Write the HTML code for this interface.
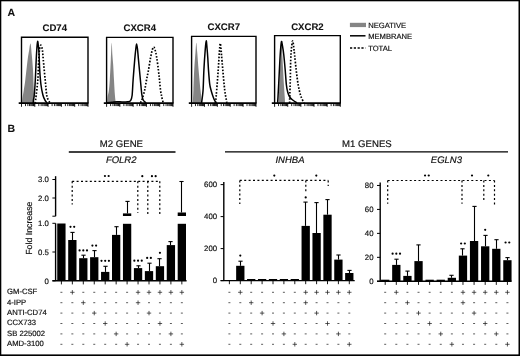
<!DOCTYPE html>
<html><head><meta charset="utf-8"><style>
html,body{margin:0;padding:0;background:#fff;}
body{width:520px;height:356px;overflow:hidden;}
svg{display:block;will-change:transform;}
text{font-family:"Liberation Sans",sans-serif;text-rendering:geometricPrecision;}
</style></head><body>
<svg width="520" height="356" viewBox="0 0 520 356">
<rect x="0" y="0" width="520" height="356" fill="#fff"/>
<rect x="0.00" y="0.00" width="520.00" height="1.30" fill="#000"/>
<rect x="0.00" y="0.00" width="1.30" height="356.00" fill="#000"/>
<rect x="518.50" y="0.00" width="1.50" height="356.00" fill="#000"/>
<rect x="0.00" y="354.40" width="520.00" height="1.60" fill="#000"/>
<text transform="translate(7.40,16.00) scale(1,1.0)" font-size="10.5" text-anchor="start" font-weight="bold" font-style="normal" fill="#111" stroke="#111" stroke-width="0.08" >A</text>
<text transform="translate(54.75,31.20) scale(1,1.0)" font-size="9.6" text-anchor="middle" font-weight="bold" font-style="normal" fill="#111" stroke="#111" stroke-width="0.08" >CD74</text>
<path d="M22.20,103.20 C22.23,102.50 22.13,101.20 22.40,99.00 C22.67,96.80 23.32,93.17 23.80,90.00 C24.28,86.83 24.67,85.00 25.30,80.00 C25.93,75.00 26.95,65.00 27.60,60.00 C28.25,55.00 28.72,52.73 29.20,50.00 C29.68,47.27 30.07,42.77 30.50,43.60 C30.93,44.43 31.38,50.60 31.80,55.00 C32.22,59.40 32.70,65.00 33.00,70.00 C33.30,75.00 33.40,80.33 33.60,85.00 C33.80,89.67 34.07,94.97 34.20,98.00 C34.33,101.03 34.37,102.33 34.40,103.20 Z" fill="#858585"/>
<path d="M33.20,103.20 C33.25,102.58 33.32,100.87 33.50,99.50 C33.68,98.13 34.00,98.25 34.30,95.00 C34.60,91.75 34.98,85.83 35.30,80.00 C35.62,74.17 35.93,65.33 36.20,60.00 C36.47,54.67 36.67,51.12 36.90,48.00 C37.13,44.88 37.33,41.47 37.60,41.30 C37.87,41.13 38.25,44.72 38.50,47.00 C38.75,49.28 38.90,51.17 39.10,55.00 C39.30,58.83 39.38,65.00 39.70,70.00 C40.02,75.00 40.47,80.83 41.00,85.00 C41.53,89.17 42.27,92.53 42.90,95.00 C43.53,97.47 44.12,98.48 44.80,99.80 C45.48,101.12 46.63,102.38 47.00,102.90" fill="none" stroke="#000" stroke-width="1.5" stroke-linejoin="round"/>
<path d="M35.20,103.20 C35.37,101.83 35.77,98.87 36.20,95.00 C36.63,91.13 37.38,85.83 37.80,80.00 C38.22,74.17 38.40,65.17 38.70,60.00 C39.00,54.83 39.22,51.47 39.60,49.00 C39.98,46.53 40.53,45.03 41.00,45.20 C41.47,45.37 42.02,47.53 42.40,50.00 C42.78,52.47 42.83,55.00 43.30,60.00 C43.77,65.00 44.63,74.17 45.20,80.00 C45.77,85.83 46.18,91.67 46.70,95.00 C47.22,98.33 47.75,98.68 48.30,100.00 C48.85,101.32 49.72,102.42 50.00,102.90" fill="none" stroke="#000" stroke-width="1.7" stroke-dasharray="1.6 1.6"/>
<path d="M21.50,103.20 L21.50,37.30 L88.00,37.30 L88.00,103.20" fill="none" stroke="#000" stroke-width="1.4"/>
<line x1="18.70" y1="103.20" x2="88.40" y2="103.20" stroke="#000" stroke-width="1.7" stroke-linecap="butt"/>
<line x1="21.50" y1="103.20" x2="21.50" y2="106.80" stroke="#000" stroke-width="0.9" stroke-linecap="butt"/>
<line x1="25.50" y1="103.20" x2="25.50" y2="106.10" stroke="#000" stroke-width="0.85" stroke-linecap="butt"/>
<line x1="27.85" y1="103.20" x2="27.85" y2="106.10" stroke="#000" stroke-width="0.85" stroke-linecap="butt"/>
<line x1="29.51" y1="103.20" x2="29.51" y2="106.10" stroke="#000" stroke-width="0.85" stroke-linecap="butt"/>
<line x1="30.80" y1="103.20" x2="30.80" y2="106.10" stroke="#000" stroke-width="0.85" stroke-linecap="butt"/>
<line x1="31.85" y1="103.20" x2="31.85" y2="106.10" stroke="#000" stroke-width="0.85" stroke-linecap="butt"/>
<line x1="32.74" y1="103.20" x2="32.74" y2="106.10" stroke="#000" stroke-width="0.85" stroke-linecap="butt"/>
<line x1="33.51" y1="103.20" x2="33.51" y2="106.10" stroke="#000" stroke-width="0.85" stroke-linecap="butt"/>
<line x1="34.19" y1="103.20" x2="34.19" y2="106.10" stroke="#000" stroke-width="0.85" stroke-linecap="butt"/>
<line x1="34.80" y1="103.20" x2="34.80" y2="106.80" stroke="#000" stroke-width="0.9" stroke-linecap="butt"/>
<line x1="38.80" y1="103.20" x2="38.80" y2="106.10" stroke="#000" stroke-width="0.85" stroke-linecap="butt"/>
<line x1="41.15" y1="103.20" x2="41.15" y2="106.10" stroke="#000" stroke-width="0.85" stroke-linecap="butt"/>
<line x1="42.81" y1="103.20" x2="42.81" y2="106.10" stroke="#000" stroke-width="0.85" stroke-linecap="butt"/>
<line x1="44.10" y1="103.20" x2="44.10" y2="106.10" stroke="#000" stroke-width="0.85" stroke-linecap="butt"/>
<line x1="45.15" y1="103.20" x2="45.15" y2="106.10" stroke="#000" stroke-width="0.85" stroke-linecap="butt"/>
<line x1="46.04" y1="103.20" x2="46.04" y2="106.10" stroke="#000" stroke-width="0.85" stroke-linecap="butt"/>
<line x1="46.81" y1="103.20" x2="46.81" y2="106.10" stroke="#000" stroke-width="0.85" stroke-linecap="butt"/>
<line x1="47.49" y1="103.20" x2="47.49" y2="106.10" stroke="#000" stroke-width="0.85" stroke-linecap="butt"/>
<line x1="48.10" y1="103.20" x2="48.10" y2="106.80" stroke="#000" stroke-width="0.9" stroke-linecap="butt"/>
<line x1="52.10" y1="103.20" x2="52.10" y2="106.10" stroke="#000" stroke-width="0.85" stroke-linecap="butt"/>
<line x1="54.45" y1="103.20" x2="54.45" y2="106.10" stroke="#000" stroke-width="0.85" stroke-linecap="butt"/>
<line x1="56.11" y1="103.20" x2="56.11" y2="106.10" stroke="#000" stroke-width="0.85" stroke-linecap="butt"/>
<line x1="57.40" y1="103.20" x2="57.40" y2="106.10" stroke="#000" stroke-width="0.85" stroke-linecap="butt"/>
<line x1="58.45" y1="103.20" x2="58.45" y2="106.10" stroke="#000" stroke-width="0.85" stroke-linecap="butt"/>
<line x1="59.34" y1="103.20" x2="59.34" y2="106.10" stroke="#000" stroke-width="0.85" stroke-linecap="butt"/>
<line x1="60.11" y1="103.20" x2="60.11" y2="106.10" stroke="#000" stroke-width="0.85" stroke-linecap="butt"/>
<line x1="60.79" y1="103.20" x2="60.79" y2="106.10" stroke="#000" stroke-width="0.85" stroke-linecap="butt"/>
<line x1="61.40" y1="103.20" x2="61.40" y2="106.80" stroke="#000" stroke-width="0.9" stroke-linecap="butt"/>
<line x1="65.40" y1="103.20" x2="65.40" y2="106.10" stroke="#000" stroke-width="0.85" stroke-linecap="butt"/>
<line x1="67.75" y1="103.20" x2="67.75" y2="106.10" stroke="#000" stroke-width="0.85" stroke-linecap="butt"/>
<line x1="69.41" y1="103.20" x2="69.41" y2="106.10" stroke="#000" stroke-width="0.85" stroke-linecap="butt"/>
<line x1="70.70" y1="103.20" x2="70.70" y2="106.10" stroke="#000" stroke-width="0.85" stroke-linecap="butt"/>
<line x1="71.75" y1="103.20" x2="71.75" y2="106.10" stroke="#000" stroke-width="0.85" stroke-linecap="butt"/>
<line x1="72.64" y1="103.20" x2="72.64" y2="106.10" stroke="#000" stroke-width="0.85" stroke-linecap="butt"/>
<line x1="73.41" y1="103.20" x2="73.41" y2="106.10" stroke="#000" stroke-width="0.85" stroke-linecap="butt"/>
<line x1="74.09" y1="103.20" x2="74.09" y2="106.10" stroke="#000" stroke-width="0.85" stroke-linecap="butt"/>
<line x1="74.70" y1="103.20" x2="74.70" y2="106.80" stroke="#000" stroke-width="0.9" stroke-linecap="butt"/>
<line x1="78.70" y1="103.20" x2="78.70" y2="106.10" stroke="#000" stroke-width="0.85" stroke-linecap="butt"/>
<line x1="81.05" y1="103.20" x2="81.05" y2="106.10" stroke="#000" stroke-width="0.85" stroke-linecap="butt"/>
<line x1="82.71" y1="103.20" x2="82.71" y2="106.10" stroke="#000" stroke-width="0.85" stroke-linecap="butt"/>
<line x1="84.00" y1="103.20" x2="84.00" y2="106.10" stroke="#000" stroke-width="0.85" stroke-linecap="butt"/>
<line x1="85.05" y1="103.20" x2="85.05" y2="106.10" stroke="#000" stroke-width="0.85" stroke-linecap="butt"/>
<line x1="85.94" y1="103.20" x2="85.94" y2="106.10" stroke="#000" stroke-width="0.85" stroke-linecap="butt"/>
<line x1="86.71" y1="103.20" x2="86.71" y2="106.10" stroke="#000" stroke-width="0.85" stroke-linecap="butt"/>
<line x1="87.39" y1="103.20" x2="87.39" y2="106.10" stroke="#000" stroke-width="0.85" stroke-linecap="butt"/>
<line x1="88.00" y1="103.20" x2="88.00" y2="106.80" stroke="#000" stroke-width="0.9" stroke-linecap="butt"/>
<text transform="translate(139.80,31.30) scale(1,1.0)" font-size="9.6" text-anchor="middle" font-weight="bold" font-style="normal" fill="#111" stroke="#111" stroke-width="0.08" >CXCR4</text>
<path d="M107.20,103.20 C107.27,102.17 107.33,99.03 107.60,97.00 C107.87,94.97 108.43,93.83 108.80,91.00 C109.17,88.17 109.47,85.17 109.80,80.00 C110.13,74.83 110.48,66.22 110.80,60.00 C111.12,53.78 111.43,43.53 111.70,42.70 C111.97,41.87 112.15,51.28 112.40,55.00 C112.65,58.72 112.93,60.83 113.20,65.00 C113.47,69.17 113.72,75.00 114.00,80.00 C114.28,85.00 114.60,91.13 114.90,95.00 C115.20,98.87 115.65,101.83 115.80,103.20 Z" fill="#858585"/>
<path d="M107.00,102.80 C107.83,102.72 110.33,102.48 112.00,102.30 C113.67,102.12 115.33,101.75 117.00,101.70 C118.67,101.65 120.25,101.98 122.00,102.00 C123.75,102.02 126.07,102.03 127.50,101.80 C128.93,101.57 129.83,101.65 130.60,100.60 C131.37,99.55 131.68,98.93 132.10,95.50 C132.52,92.07 132.67,85.92 133.10,80.00 C133.53,74.08 134.25,65.17 134.70,60.00 C135.15,54.83 135.48,51.67 135.80,49.00 C136.12,46.33 136.32,44.00 136.60,44.00 C136.88,44.00 137.18,46.33 137.50,49.00 C137.82,51.67 138.02,54.83 138.50,60.00 C138.98,65.17 139.83,74.17 140.40,80.00 C140.97,85.83 141.43,91.67 141.90,95.00 C142.37,98.33 142.52,98.68 143.20,100.00 C143.88,101.32 145.53,102.42 146.00,102.90" fill="none" stroke="#000" stroke-width="1.5" stroke-linejoin="round"/>
<path d="M140.50,102.80 C140.78,102.17 141.50,101.13 142.20,99.00 C142.90,96.87 143.98,93.17 144.70,90.00 C145.42,86.83 145.87,83.33 146.50,80.00 C147.13,76.67 147.83,73.67 148.50,70.00 C149.17,66.33 149.85,61.42 150.50,58.00 C151.15,54.58 151.87,51.32 152.40,49.50 C152.93,47.68 153.27,47.10 153.70,47.10 C154.13,47.10 154.52,47.85 155.00,49.50 C155.48,51.15 156.03,53.58 156.60,57.00 C157.17,60.42 157.92,66.17 158.40,70.00 C158.88,73.83 159.15,76.67 159.50,80.00 C159.85,83.33 160.12,87.17 160.50,90.00 C160.88,92.83 161.35,94.87 161.80,97.00 C162.25,99.13 162.97,101.83 163.20,102.80" fill="none" stroke="#000" stroke-width="1.7" stroke-dasharray="1.6 1.6"/>
<path d="M106.60,103.20 L106.60,37.40 L173.00,37.40 L173.00,103.20" fill="none" stroke="#000" stroke-width="1.4"/>
<line x1="103.80" y1="103.20" x2="173.40" y2="103.20" stroke="#000" stroke-width="1.7" stroke-linecap="butt"/>
<line x1="106.60" y1="103.20" x2="106.60" y2="106.80" stroke="#000" stroke-width="0.9" stroke-linecap="butt"/>
<line x1="110.60" y1="103.20" x2="110.60" y2="106.10" stroke="#000" stroke-width="0.85" stroke-linecap="butt"/>
<line x1="112.94" y1="103.20" x2="112.94" y2="106.10" stroke="#000" stroke-width="0.85" stroke-linecap="butt"/>
<line x1="114.60" y1="103.20" x2="114.60" y2="106.10" stroke="#000" stroke-width="0.85" stroke-linecap="butt"/>
<line x1="115.88" y1="103.20" x2="115.88" y2="106.10" stroke="#000" stroke-width="0.85" stroke-linecap="butt"/>
<line x1="116.93" y1="103.20" x2="116.93" y2="106.10" stroke="#000" stroke-width="0.85" stroke-linecap="butt"/>
<line x1="117.82" y1="103.20" x2="117.82" y2="106.10" stroke="#000" stroke-width="0.85" stroke-linecap="butt"/>
<line x1="118.59" y1="103.20" x2="118.59" y2="106.10" stroke="#000" stroke-width="0.85" stroke-linecap="butt"/>
<line x1="119.27" y1="103.20" x2="119.27" y2="106.10" stroke="#000" stroke-width="0.85" stroke-linecap="butt"/>
<line x1="119.88" y1="103.20" x2="119.88" y2="106.80" stroke="#000" stroke-width="0.9" stroke-linecap="butt"/>
<line x1="123.88" y1="103.20" x2="123.88" y2="106.10" stroke="#000" stroke-width="0.85" stroke-linecap="butt"/>
<line x1="126.22" y1="103.20" x2="126.22" y2="106.10" stroke="#000" stroke-width="0.85" stroke-linecap="butt"/>
<line x1="127.88" y1="103.20" x2="127.88" y2="106.10" stroke="#000" stroke-width="0.85" stroke-linecap="butt"/>
<line x1="129.16" y1="103.20" x2="129.16" y2="106.10" stroke="#000" stroke-width="0.85" stroke-linecap="butt"/>
<line x1="130.21" y1="103.20" x2="130.21" y2="106.10" stroke="#000" stroke-width="0.85" stroke-linecap="butt"/>
<line x1="131.10" y1="103.20" x2="131.10" y2="106.10" stroke="#000" stroke-width="0.85" stroke-linecap="butt"/>
<line x1="131.87" y1="103.20" x2="131.87" y2="106.10" stroke="#000" stroke-width="0.85" stroke-linecap="butt"/>
<line x1="132.55" y1="103.20" x2="132.55" y2="106.10" stroke="#000" stroke-width="0.85" stroke-linecap="butt"/>
<line x1="133.16" y1="103.20" x2="133.16" y2="106.80" stroke="#000" stroke-width="0.9" stroke-linecap="butt"/>
<line x1="137.16" y1="103.20" x2="137.16" y2="106.10" stroke="#000" stroke-width="0.85" stroke-linecap="butt"/>
<line x1="139.50" y1="103.20" x2="139.50" y2="106.10" stroke="#000" stroke-width="0.85" stroke-linecap="butt"/>
<line x1="141.16" y1="103.20" x2="141.16" y2="106.10" stroke="#000" stroke-width="0.85" stroke-linecap="butt"/>
<line x1="142.44" y1="103.20" x2="142.44" y2="106.10" stroke="#000" stroke-width="0.85" stroke-linecap="butt"/>
<line x1="143.49" y1="103.20" x2="143.49" y2="106.10" stroke="#000" stroke-width="0.85" stroke-linecap="butt"/>
<line x1="144.38" y1="103.20" x2="144.38" y2="106.10" stroke="#000" stroke-width="0.85" stroke-linecap="butt"/>
<line x1="145.15" y1="103.20" x2="145.15" y2="106.10" stroke="#000" stroke-width="0.85" stroke-linecap="butt"/>
<line x1="145.83" y1="103.20" x2="145.83" y2="106.10" stroke="#000" stroke-width="0.85" stroke-linecap="butt"/>
<line x1="146.44" y1="103.20" x2="146.44" y2="106.80" stroke="#000" stroke-width="0.9" stroke-linecap="butt"/>
<line x1="150.44" y1="103.20" x2="150.44" y2="106.10" stroke="#000" stroke-width="0.85" stroke-linecap="butt"/>
<line x1="152.78" y1="103.20" x2="152.78" y2="106.10" stroke="#000" stroke-width="0.85" stroke-linecap="butt"/>
<line x1="154.44" y1="103.20" x2="154.44" y2="106.10" stroke="#000" stroke-width="0.85" stroke-linecap="butt"/>
<line x1="155.72" y1="103.20" x2="155.72" y2="106.10" stroke="#000" stroke-width="0.85" stroke-linecap="butt"/>
<line x1="156.77" y1="103.20" x2="156.77" y2="106.10" stroke="#000" stroke-width="0.85" stroke-linecap="butt"/>
<line x1="157.66" y1="103.20" x2="157.66" y2="106.10" stroke="#000" stroke-width="0.85" stroke-linecap="butt"/>
<line x1="158.43" y1="103.20" x2="158.43" y2="106.10" stroke="#000" stroke-width="0.85" stroke-linecap="butt"/>
<line x1="159.11" y1="103.20" x2="159.11" y2="106.10" stroke="#000" stroke-width="0.85" stroke-linecap="butt"/>
<line x1="159.72" y1="103.20" x2="159.72" y2="106.80" stroke="#000" stroke-width="0.9" stroke-linecap="butt"/>
<line x1="163.72" y1="103.20" x2="163.72" y2="106.10" stroke="#000" stroke-width="0.85" stroke-linecap="butt"/>
<line x1="166.06" y1="103.20" x2="166.06" y2="106.10" stroke="#000" stroke-width="0.85" stroke-linecap="butt"/>
<line x1="167.72" y1="103.20" x2="167.72" y2="106.10" stroke="#000" stroke-width="0.85" stroke-linecap="butt"/>
<line x1="169.00" y1="103.20" x2="169.00" y2="106.10" stroke="#000" stroke-width="0.85" stroke-linecap="butt"/>
<line x1="170.05" y1="103.20" x2="170.05" y2="106.10" stroke="#000" stroke-width="0.85" stroke-linecap="butt"/>
<line x1="170.94" y1="103.20" x2="170.94" y2="106.10" stroke="#000" stroke-width="0.85" stroke-linecap="butt"/>
<line x1="171.71" y1="103.20" x2="171.71" y2="106.10" stroke="#000" stroke-width="0.85" stroke-linecap="butt"/>
<line x1="172.39" y1="103.20" x2="172.39" y2="106.10" stroke="#000" stroke-width="0.85" stroke-linecap="butt"/>
<line x1="173.00" y1="103.20" x2="173.00" y2="106.80" stroke="#000" stroke-width="0.9" stroke-linecap="butt"/>
<text transform="translate(223.80,30.40) scale(1,1.0)" font-size="9.6" text-anchor="middle" font-weight="bold" font-style="normal" fill="#111" stroke="#111" stroke-width="0.08" >CXCR7</text>
<path d="M192.80,103.20 C192.83,102.50 192.90,101.20 193.00,99.00 C193.10,96.80 193.20,94.83 193.40,90.00 C193.60,85.17 193.85,76.33 194.20,70.00 C194.55,63.67 195.15,56.55 195.50,52.00 C195.85,47.45 196.02,42.70 196.30,42.70 C196.58,42.70 196.82,47.45 197.20,52.00 C197.58,56.55 198.05,63.67 198.60,70.00 C199.15,76.33 200.00,85.17 200.50,90.00 C201.00,94.83 201.38,96.80 201.60,99.00 C201.82,101.20 201.77,102.50 201.80,103.20 Z" fill="#858585"/>
<path d="M201.60,102.90 C201.77,101.58 202.33,97.48 202.60,95.00 C202.87,92.52 202.98,92.17 203.20,88.00 C203.42,83.83 203.57,76.33 203.90,70.00 C204.23,63.67 204.82,54.87 205.20,50.00 C205.58,45.13 205.88,40.97 206.20,40.80 C206.52,40.63 206.83,46.13 207.10,49.00 C207.37,51.87 207.57,54.50 207.80,58.00 C208.03,61.50 208.18,65.67 208.50,70.00 C208.82,74.33 209.28,80.67 209.70,84.00 C210.12,87.33 210.53,88.17 211.00,90.00 C211.47,91.83 211.93,93.33 212.50,95.00 C213.07,96.67 213.73,98.68 214.40,100.00 C215.07,101.32 216.15,102.42 216.50,102.90" fill="none" stroke="#000" stroke-width="1.5" stroke-linejoin="round"/>
<path d="M215.20,102.90 C215.30,102.42 215.55,102.15 215.80,100.00 C216.05,97.85 216.30,95.00 216.70,90.00 C217.10,85.00 217.75,76.33 218.20,70.00 C218.65,63.67 219.07,56.45 219.40,52.00 C219.73,47.55 219.93,43.80 220.20,43.30 C220.47,42.80 220.78,47.05 221.00,49.00 C221.22,50.95 221.20,51.50 221.50,55.00 C221.80,58.50 222.27,64.17 222.80,70.00 C223.33,75.83 224.17,85.33 224.70,90.00 C225.23,94.67 225.63,95.85 226.00,98.00 C226.37,100.15 226.75,102.08 226.90,102.90" fill="none" stroke="#000" stroke-width="1.7" stroke-dasharray="1.6 1.6"/>
<path d="M191.60,103.20 L191.60,36.40 L256.00,36.40 L256.00,103.20" fill="none" stroke="#000" stroke-width="1.4"/>
<line x1="188.80" y1="103.20" x2="256.40" y2="103.20" stroke="#000" stroke-width="1.7" stroke-linecap="butt"/>
<line x1="191.60" y1="103.20" x2="191.60" y2="106.80" stroke="#000" stroke-width="0.9" stroke-linecap="butt"/>
<line x1="195.48" y1="103.20" x2="195.48" y2="106.10" stroke="#000" stroke-width="0.85" stroke-linecap="butt"/>
<line x1="197.75" y1="103.20" x2="197.75" y2="106.10" stroke="#000" stroke-width="0.85" stroke-linecap="butt"/>
<line x1="199.35" y1="103.20" x2="199.35" y2="106.10" stroke="#000" stroke-width="0.85" stroke-linecap="butt"/>
<line x1="200.60" y1="103.20" x2="200.60" y2="106.10" stroke="#000" stroke-width="0.85" stroke-linecap="butt"/>
<line x1="201.62" y1="103.20" x2="201.62" y2="106.10" stroke="#000" stroke-width="0.85" stroke-linecap="butt"/>
<line x1="202.48" y1="103.20" x2="202.48" y2="106.10" stroke="#000" stroke-width="0.85" stroke-linecap="butt"/>
<line x1="203.23" y1="103.20" x2="203.23" y2="106.10" stroke="#000" stroke-width="0.85" stroke-linecap="butt"/>
<line x1="203.89" y1="103.20" x2="203.89" y2="106.10" stroke="#000" stroke-width="0.85" stroke-linecap="butt"/>
<line x1="204.48" y1="103.20" x2="204.48" y2="106.80" stroke="#000" stroke-width="0.9" stroke-linecap="butt"/>
<line x1="208.36" y1="103.20" x2="208.36" y2="106.10" stroke="#000" stroke-width="0.85" stroke-linecap="butt"/>
<line x1="210.63" y1="103.20" x2="210.63" y2="106.10" stroke="#000" stroke-width="0.85" stroke-linecap="butt"/>
<line x1="212.23" y1="103.20" x2="212.23" y2="106.10" stroke="#000" stroke-width="0.85" stroke-linecap="butt"/>
<line x1="213.48" y1="103.20" x2="213.48" y2="106.10" stroke="#000" stroke-width="0.85" stroke-linecap="butt"/>
<line x1="214.50" y1="103.20" x2="214.50" y2="106.10" stroke="#000" stroke-width="0.85" stroke-linecap="butt"/>
<line x1="215.36" y1="103.20" x2="215.36" y2="106.10" stroke="#000" stroke-width="0.85" stroke-linecap="butt"/>
<line x1="216.11" y1="103.20" x2="216.11" y2="106.10" stroke="#000" stroke-width="0.85" stroke-linecap="butt"/>
<line x1="216.77" y1="103.20" x2="216.77" y2="106.10" stroke="#000" stroke-width="0.85" stroke-linecap="butt"/>
<line x1="217.36" y1="103.20" x2="217.36" y2="106.80" stroke="#000" stroke-width="0.9" stroke-linecap="butt"/>
<line x1="221.24" y1="103.20" x2="221.24" y2="106.10" stroke="#000" stroke-width="0.85" stroke-linecap="butt"/>
<line x1="223.51" y1="103.20" x2="223.51" y2="106.10" stroke="#000" stroke-width="0.85" stroke-linecap="butt"/>
<line x1="225.11" y1="103.20" x2="225.11" y2="106.10" stroke="#000" stroke-width="0.85" stroke-linecap="butt"/>
<line x1="226.36" y1="103.20" x2="226.36" y2="106.10" stroke="#000" stroke-width="0.85" stroke-linecap="butt"/>
<line x1="227.38" y1="103.20" x2="227.38" y2="106.10" stroke="#000" stroke-width="0.85" stroke-linecap="butt"/>
<line x1="228.24" y1="103.20" x2="228.24" y2="106.10" stroke="#000" stroke-width="0.85" stroke-linecap="butt"/>
<line x1="228.99" y1="103.20" x2="228.99" y2="106.10" stroke="#000" stroke-width="0.85" stroke-linecap="butt"/>
<line x1="229.65" y1="103.20" x2="229.65" y2="106.10" stroke="#000" stroke-width="0.85" stroke-linecap="butt"/>
<line x1="230.24" y1="103.20" x2="230.24" y2="106.80" stroke="#000" stroke-width="0.9" stroke-linecap="butt"/>
<line x1="234.12" y1="103.20" x2="234.12" y2="106.10" stroke="#000" stroke-width="0.85" stroke-linecap="butt"/>
<line x1="236.39" y1="103.20" x2="236.39" y2="106.10" stroke="#000" stroke-width="0.85" stroke-linecap="butt"/>
<line x1="237.99" y1="103.20" x2="237.99" y2="106.10" stroke="#000" stroke-width="0.85" stroke-linecap="butt"/>
<line x1="239.24" y1="103.20" x2="239.24" y2="106.10" stroke="#000" stroke-width="0.85" stroke-linecap="butt"/>
<line x1="240.26" y1="103.20" x2="240.26" y2="106.10" stroke="#000" stroke-width="0.85" stroke-linecap="butt"/>
<line x1="241.12" y1="103.20" x2="241.12" y2="106.10" stroke="#000" stroke-width="0.85" stroke-linecap="butt"/>
<line x1="241.87" y1="103.20" x2="241.87" y2="106.10" stroke="#000" stroke-width="0.85" stroke-linecap="butt"/>
<line x1="242.53" y1="103.20" x2="242.53" y2="106.10" stroke="#000" stroke-width="0.85" stroke-linecap="butt"/>
<line x1="243.12" y1="103.20" x2="243.12" y2="106.80" stroke="#000" stroke-width="0.9" stroke-linecap="butt"/>
<line x1="247.00" y1="103.20" x2="247.00" y2="106.10" stroke="#000" stroke-width="0.85" stroke-linecap="butt"/>
<line x1="249.27" y1="103.20" x2="249.27" y2="106.10" stroke="#000" stroke-width="0.85" stroke-linecap="butt"/>
<line x1="250.87" y1="103.20" x2="250.87" y2="106.10" stroke="#000" stroke-width="0.85" stroke-linecap="butt"/>
<line x1="252.12" y1="103.20" x2="252.12" y2="106.10" stroke="#000" stroke-width="0.85" stroke-linecap="butt"/>
<line x1="253.14" y1="103.20" x2="253.14" y2="106.10" stroke="#000" stroke-width="0.85" stroke-linecap="butt"/>
<line x1="254.00" y1="103.20" x2="254.00" y2="106.10" stroke="#000" stroke-width="0.85" stroke-linecap="butt"/>
<line x1="254.75" y1="103.20" x2="254.75" y2="106.10" stroke="#000" stroke-width="0.85" stroke-linecap="butt"/>
<line x1="255.41" y1="103.20" x2="255.41" y2="106.10" stroke="#000" stroke-width="0.85" stroke-linecap="butt"/>
<line x1="256.00" y1="103.20" x2="256.00" y2="106.80" stroke="#000" stroke-width="0.9" stroke-linecap="butt"/>
<text transform="translate(307.45,30.10) scale(1,1.0)" font-size="9.6" text-anchor="middle" font-weight="bold" font-style="normal" fill="#111" stroke="#111" stroke-width="0.08" >CXCR2</text>
<path d="M278.60,103.20 C278.65,101.83 278.75,98.53 278.90,95.00 C279.05,91.47 279.28,86.83 279.50,82.00 C279.72,77.17 279.97,71.00 280.20,66.00 C280.43,61.00 280.68,55.95 280.90,52.00 C281.12,48.05 281.28,42.30 281.50,42.30 C281.72,42.30 281.95,47.72 282.20,52.00 C282.45,56.28 282.70,62.33 283.00,68.00 C283.30,73.67 283.70,81.00 284.00,86.00 C284.30,91.00 284.63,95.13 284.80,98.00 C284.97,100.87 284.97,102.33 285.00,103.20 Z" fill="#858585"/>
<path d="M277.60,102.90 C277.67,101.92 277.78,100.82 278.00,97.00 C278.22,93.18 278.58,86.17 278.90,80.00 C279.22,73.83 279.60,65.33 279.90,60.00 C280.20,54.67 280.43,51.08 280.70,48.00 C280.97,44.92 281.20,41.83 281.50,41.50 C281.80,41.17 282.12,43.75 282.50,46.00 C282.88,48.25 283.35,51.00 283.80,55.00 C284.25,59.00 284.77,65.00 285.20,70.00 C285.63,75.00 285.98,81.33 286.40,85.00 C286.82,88.67 287.15,90.00 287.70,92.00 C288.25,94.00 288.87,95.67 289.70,97.00 C290.53,98.33 291.48,99.02 292.70,100.00 C293.92,100.98 296.28,102.42 297.00,102.90" fill="none" stroke="#000" stroke-width="1.5" stroke-linejoin="round"/>
<path d="M289.60,102.90 C289.63,101.58 289.68,98.82 289.80,95.00 C289.92,91.18 290.15,85.83 290.30,80.00 C290.45,74.17 290.50,65.33 290.70,60.00 C290.90,54.67 291.17,51.18 291.50,48.00 C291.83,44.82 292.33,41.07 292.70,40.90 C293.07,40.73 293.38,44.65 293.70,47.00 C294.02,49.35 294.18,51.17 294.60,55.00 C295.02,58.83 295.60,65.00 296.20,70.00 C296.80,75.00 297.48,80.83 298.20,85.00 C298.92,89.17 299.78,92.50 300.50,95.00 C301.22,97.50 301.92,98.68 302.50,100.00 C303.08,101.32 303.75,102.42 304.00,102.90" fill="none" stroke="#000" stroke-width="1.7" stroke-dasharray="1.6 1.6"/>
<path d="M274.60,103.20 L274.60,35.60 L340.30,35.60 L340.30,103.20" fill="none" stroke="#000" stroke-width="1.4"/>
<line x1="271.80" y1="103.20" x2="340.70" y2="103.20" stroke="#000" stroke-width="1.7" stroke-linecap="butt"/>
<line x1="274.60" y1="103.20" x2="274.60" y2="106.80" stroke="#000" stroke-width="0.9" stroke-linecap="butt"/>
<line x1="278.56" y1="103.20" x2="278.56" y2="106.10" stroke="#000" stroke-width="0.85" stroke-linecap="butt"/>
<line x1="280.87" y1="103.20" x2="280.87" y2="106.10" stroke="#000" stroke-width="0.85" stroke-linecap="butt"/>
<line x1="282.51" y1="103.20" x2="282.51" y2="106.10" stroke="#000" stroke-width="0.85" stroke-linecap="butt"/>
<line x1="283.78" y1="103.20" x2="283.78" y2="106.10" stroke="#000" stroke-width="0.85" stroke-linecap="butt"/>
<line x1="284.82" y1="103.20" x2="284.82" y2="106.10" stroke="#000" stroke-width="0.85" stroke-linecap="butt"/>
<line x1="285.70" y1="103.20" x2="285.70" y2="106.10" stroke="#000" stroke-width="0.85" stroke-linecap="butt"/>
<line x1="286.47" y1="103.20" x2="286.47" y2="106.10" stroke="#000" stroke-width="0.85" stroke-linecap="butt"/>
<line x1="287.14" y1="103.20" x2="287.14" y2="106.10" stroke="#000" stroke-width="0.85" stroke-linecap="butt"/>
<line x1="287.74" y1="103.20" x2="287.74" y2="106.80" stroke="#000" stroke-width="0.9" stroke-linecap="butt"/>
<line x1="291.70" y1="103.20" x2="291.70" y2="106.10" stroke="#000" stroke-width="0.85" stroke-linecap="butt"/>
<line x1="294.01" y1="103.20" x2="294.01" y2="106.10" stroke="#000" stroke-width="0.85" stroke-linecap="butt"/>
<line x1="295.65" y1="103.20" x2="295.65" y2="106.10" stroke="#000" stroke-width="0.85" stroke-linecap="butt"/>
<line x1="296.92" y1="103.20" x2="296.92" y2="106.10" stroke="#000" stroke-width="0.85" stroke-linecap="butt"/>
<line x1="297.96" y1="103.20" x2="297.96" y2="106.10" stroke="#000" stroke-width="0.85" stroke-linecap="butt"/>
<line x1="298.84" y1="103.20" x2="298.84" y2="106.10" stroke="#000" stroke-width="0.85" stroke-linecap="butt"/>
<line x1="299.61" y1="103.20" x2="299.61" y2="106.10" stroke="#000" stroke-width="0.85" stroke-linecap="butt"/>
<line x1="300.28" y1="103.20" x2="300.28" y2="106.10" stroke="#000" stroke-width="0.85" stroke-linecap="butt"/>
<line x1="300.88" y1="103.20" x2="300.88" y2="106.80" stroke="#000" stroke-width="0.9" stroke-linecap="butt"/>
<line x1="304.84" y1="103.20" x2="304.84" y2="106.10" stroke="#000" stroke-width="0.85" stroke-linecap="butt"/>
<line x1="307.15" y1="103.20" x2="307.15" y2="106.10" stroke="#000" stroke-width="0.85" stroke-linecap="butt"/>
<line x1="308.79" y1="103.20" x2="308.79" y2="106.10" stroke="#000" stroke-width="0.85" stroke-linecap="butt"/>
<line x1="310.06" y1="103.20" x2="310.06" y2="106.10" stroke="#000" stroke-width="0.85" stroke-linecap="butt"/>
<line x1="311.10" y1="103.20" x2="311.10" y2="106.10" stroke="#000" stroke-width="0.85" stroke-linecap="butt"/>
<line x1="311.98" y1="103.20" x2="311.98" y2="106.10" stroke="#000" stroke-width="0.85" stroke-linecap="butt"/>
<line x1="312.75" y1="103.20" x2="312.75" y2="106.10" stroke="#000" stroke-width="0.85" stroke-linecap="butt"/>
<line x1="313.42" y1="103.20" x2="313.42" y2="106.10" stroke="#000" stroke-width="0.85" stroke-linecap="butt"/>
<line x1="314.02" y1="103.20" x2="314.02" y2="106.80" stroke="#000" stroke-width="0.9" stroke-linecap="butt"/>
<line x1="317.98" y1="103.20" x2="317.98" y2="106.10" stroke="#000" stroke-width="0.85" stroke-linecap="butt"/>
<line x1="320.29" y1="103.20" x2="320.29" y2="106.10" stroke="#000" stroke-width="0.85" stroke-linecap="butt"/>
<line x1="321.93" y1="103.20" x2="321.93" y2="106.10" stroke="#000" stroke-width="0.85" stroke-linecap="butt"/>
<line x1="323.20" y1="103.20" x2="323.20" y2="106.10" stroke="#000" stroke-width="0.85" stroke-linecap="butt"/>
<line x1="324.24" y1="103.20" x2="324.24" y2="106.10" stroke="#000" stroke-width="0.85" stroke-linecap="butt"/>
<line x1="325.12" y1="103.20" x2="325.12" y2="106.10" stroke="#000" stroke-width="0.85" stroke-linecap="butt"/>
<line x1="325.89" y1="103.20" x2="325.89" y2="106.10" stroke="#000" stroke-width="0.85" stroke-linecap="butt"/>
<line x1="326.56" y1="103.20" x2="326.56" y2="106.10" stroke="#000" stroke-width="0.85" stroke-linecap="butt"/>
<line x1="327.16" y1="103.20" x2="327.16" y2="106.80" stroke="#000" stroke-width="0.9" stroke-linecap="butt"/>
<line x1="331.12" y1="103.20" x2="331.12" y2="106.10" stroke="#000" stroke-width="0.85" stroke-linecap="butt"/>
<line x1="333.43" y1="103.20" x2="333.43" y2="106.10" stroke="#000" stroke-width="0.85" stroke-linecap="butt"/>
<line x1="335.07" y1="103.20" x2="335.07" y2="106.10" stroke="#000" stroke-width="0.85" stroke-linecap="butt"/>
<line x1="336.34" y1="103.20" x2="336.34" y2="106.10" stroke="#000" stroke-width="0.85" stroke-linecap="butt"/>
<line x1="337.38" y1="103.20" x2="337.38" y2="106.10" stroke="#000" stroke-width="0.85" stroke-linecap="butt"/>
<line x1="338.26" y1="103.20" x2="338.26" y2="106.10" stroke="#000" stroke-width="0.85" stroke-linecap="butt"/>
<line x1="339.03" y1="103.20" x2="339.03" y2="106.10" stroke="#000" stroke-width="0.85" stroke-linecap="butt"/>
<line x1="339.70" y1="103.20" x2="339.70" y2="106.10" stroke="#000" stroke-width="0.85" stroke-linecap="butt"/>
<line x1="340.30" y1="103.20" x2="340.30" y2="106.80" stroke="#000" stroke-width="0.9" stroke-linecap="butt"/>
<rect x="349.90" y="22.80" width="16.10" height="4.30" fill="#858585"/>
<line x1="350.00" y1="35.80" x2="365.50" y2="35.80" stroke="#000" stroke-width="1.5" stroke-linecap="butt"/>
<line x1="350.00" y1="48.00" x2="365.50" y2="48.00" stroke="#000" stroke-width="1.6" stroke-linecap="butt" stroke-dasharray="2.2 1.6"/>
<text transform="translate(368.20,28.00) scale(1,1.0)" font-size="7.6" text-anchor="start" font-weight="normal" font-style="normal" fill="#111" stroke="#111" stroke-width="0.18" >NEGATIVE</text>
<text transform="translate(368.20,38.90) scale(1,1.0)" font-size="7.6" text-anchor="start" font-weight="normal" font-style="normal" fill="#111" stroke="#111" stroke-width="0.18" >MEMBRANE</text>
<text transform="translate(368.20,50.90) scale(1,1.0)" font-size="7.6" text-anchor="start" font-weight="normal" font-style="normal" fill="#111" stroke="#111" stroke-width="0.18" >TOTAL</text>
<text transform="translate(7.60,131.80) scale(1,1.0)" font-size="10.5" text-anchor="start" font-weight="bold" font-style="normal" fill="#111" stroke="#111" stroke-width="0.08" >B</text>
<text transform="translate(121.40,147.30) scale(1,1.0)" font-size="9.6" text-anchor="middle" font-weight="normal" font-style="normal" fill="#111" stroke="#111" stroke-width="0.18" >M2 GENE</text>
<line x1="68.80" y1="152.00" x2="175.50" y2="152.00" stroke="#000" stroke-width="1.3" stroke-linecap="butt"/>
<text transform="translate(121.20,162.70) scale(1,1.0)" font-size="9.5" text-anchor="middle" font-weight="normal" font-style="italic" fill="#111" stroke="#111" stroke-width="0.18" >FOLR2</text>
<text transform="translate(366.90,146.60) scale(1,1.0)" font-size="9.6" text-anchor="middle" font-weight="normal" font-style="normal" fill="#111" stroke="#111" stroke-width="0.18" >M1 GENES</text>
<line x1="225.00" y1="151.90" x2="508.00" y2="151.90" stroke="#000" stroke-width="1.3" stroke-linecap="butt"/>
<text transform="translate(290.00,162.70) scale(1,1.0)" font-size="9.5" text-anchor="middle" font-weight="normal" font-style="italic" fill="#111" stroke="#111" stroke-width="0.18" >INHBA</text>
<text transform="translate(446.40,162.70) scale(1,1.0)" font-size="9.5" text-anchor="middle" font-weight="normal" font-style="italic" fill="#111" stroke="#111" stroke-width="0.18" >EGLN3</text>
<text x="0" y="0" font-size="8.8" text-anchor="middle" fill="#111" stroke="#111" stroke-width="0.18" transform="translate(32.4,228.2) rotate(-90) scale(1,1.0)">Fold Increase</text>
<line x1="55.60" y1="223.30" x2="55.60" y2="280.80" stroke="#000" stroke-width="1.4" stroke-linecap="butt"/>
<line x1="52.40" y1="223.30" x2="55.60" y2="223.30" stroke="#000" stroke-width="1.0" stroke-linecap="butt"/>
<text transform="translate(48.90,226.10) scale(1,1.0)" font-size="7.8" text-anchor="end" font-weight="normal" font-style="normal" fill="#111" stroke="#111" stroke-width="0.18" >1.0</text>
<line x1="52.40" y1="252.00" x2="55.60" y2="252.00" stroke="#000" stroke-width="1.0" stroke-linecap="butt"/>
<text transform="translate(48.90,254.80) scale(1,1.0)" font-size="7.8" text-anchor="end" font-weight="normal" font-style="normal" fill="#111" stroke="#111" stroke-width="0.18" >0.5</text>
<line x1="52.40" y1="280.80" x2="55.60" y2="280.80" stroke="#000" stroke-width="1.0" stroke-linecap="butt"/>
<text transform="translate(48.90,283.60) scale(1,1.0)" font-size="7.8" text-anchor="end" font-weight="normal" font-style="normal" fill="#111" stroke="#111" stroke-width="0.18" >0</text>
<line x1="55.60" y1="176.20" x2="55.60" y2="216.20" stroke="#000" stroke-width="1.4" stroke-linecap="butt"/>
<line x1="52.40" y1="179.50" x2="55.60" y2="179.50" stroke="#000" stroke-width="1.0" stroke-linecap="butt"/>
<line x1="52.40" y1="198.00" x2="55.60" y2="198.00" stroke="#000" stroke-width="1.0" stroke-linecap="butt"/>
<line x1="52.40" y1="216.20" x2="55.60" y2="216.20" stroke="#000" stroke-width="1.0" stroke-linecap="butt"/>
<text transform="translate(48.90,182.30) scale(1,1.0)" font-size="7.8" text-anchor="end" font-weight="normal" font-style="normal" fill="#111" stroke="#111" stroke-width="0.18" >3.0</text>
<text transform="translate(48.90,200.80) scale(1,1.0)" font-size="7.8" text-anchor="end" font-weight="normal" font-style="normal" fill="#111" stroke="#111" stroke-width="0.18" >2.0</text>
<line x1="52.40" y1="280.80" x2="186.60" y2="280.80" stroke="#000" stroke-width="1.4" stroke-linecap="butt"/>
<line x1="61.40" y1="280.80" x2="61.40" y2="284.40" stroke="#000" stroke-width="0.9" stroke-linecap="butt"/>
<line x1="72.35" y1="280.80" x2="72.35" y2="284.40" stroke="#000" stroke-width="0.9" stroke-linecap="butt"/>
<line x1="83.30" y1="280.80" x2="83.30" y2="284.40" stroke="#000" stroke-width="0.9" stroke-linecap="butt"/>
<line x1="94.25" y1="280.80" x2="94.25" y2="284.40" stroke="#000" stroke-width="0.9" stroke-linecap="butt"/>
<line x1="105.20" y1="280.80" x2="105.20" y2="284.40" stroke="#000" stroke-width="0.9" stroke-linecap="butt"/>
<line x1="116.15" y1="280.80" x2="116.15" y2="284.40" stroke="#000" stroke-width="0.9" stroke-linecap="butt"/>
<line x1="127.10" y1="280.80" x2="127.10" y2="284.40" stroke="#000" stroke-width="0.9" stroke-linecap="butt"/>
<line x1="138.05" y1="280.80" x2="138.05" y2="284.40" stroke="#000" stroke-width="0.9" stroke-linecap="butt"/>
<line x1="149.00" y1="280.80" x2="149.00" y2="284.40" stroke="#000" stroke-width="0.9" stroke-linecap="butt"/>
<line x1="159.95" y1="280.80" x2="159.95" y2="284.40" stroke="#000" stroke-width="0.9" stroke-linecap="butt"/>
<line x1="170.90" y1="280.80" x2="170.90" y2="284.40" stroke="#000" stroke-width="0.9" stroke-linecap="butt"/>
<line x1="181.85" y1="280.80" x2="181.85" y2="284.40" stroke="#000" stroke-width="0.9" stroke-linecap="butt"/>
<rect x="57.25" y="223.50" width="8.30" height="57.30" fill="#000"/>
<rect x="68.20" y="240.00" width="8.30" height="40.80" fill="#000"/>
<line x1="72.50" y1="240.00" x2="72.50" y2="232.40" stroke="#000" stroke-width="1.1" stroke-linecap="butt"/>
<line x1="70.40" y1="232.40" x2="74.60" y2="232.40" stroke="#000" stroke-width="1.1" stroke-linecap="butt"/>
<circle cx="70.50" cy="226.80" r="1.1" fill="#000"/>
<circle cx="74.20" cy="226.80" r="1.1" fill="#000"/>
<rect x="79.15" y="258.20" width="8.30" height="22.60" fill="#000"/>
<line x1="83.50" y1="258.20" x2="83.50" y2="255.20" stroke="#000" stroke-width="1.1" stroke-linecap="butt"/>
<line x1="81.40" y1="255.20" x2="85.60" y2="255.20" stroke="#000" stroke-width="1.1" stroke-linecap="butt"/>
<circle cx="79.60" cy="250.40" r="1.1" fill="#000"/>
<circle cx="83.30" cy="250.40" r="1.1" fill="#000"/>
<circle cx="87.00" cy="250.40" r="1.1" fill="#000"/>
<rect x="90.10" y="257.20" width="8.30" height="23.60" fill="#000"/>
<line x1="94.50" y1="257.20" x2="94.50" y2="250.60" stroke="#000" stroke-width="1.1" stroke-linecap="butt"/>
<line x1="92.40" y1="250.60" x2="96.60" y2="250.60" stroke="#000" stroke-width="1.1" stroke-linecap="butt"/>
<circle cx="92.40" cy="245.60" r="1.1" fill="#000"/>
<circle cx="96.10" cy="245.60" r="1.1" fill="#000"/>
<rect x="101.05" y="271.90" width="8.30" height="8.90" fill="#000"/>
<line x1="105.50" y1="271.90" x2="105.50" y2="266.30" stroke="#000" stroke-width="1.1" stroke-linecap="butt"/>
<line x1="103.40" y1="266.30" x2="107.60" y2="266.30" stroke="#000" stroke-width="1.1" stroke-linecap="butt"/>
<circle cx="101.50" cy="260.80" r="1.1" fill="#000"/>
<circle cx="105.20" cy="260.80" r="1.1" fill="#000"/>
<circle cx="108.90" cy="260.80" r="1.1" fill="#000"/>
<rect x="112.00" y="234.90" width="8.30" height="45.90" fill="#000"/>
<line x1="116.50" y1="234.90" x2="116.50" y2="226.70" stroke="#000" stroke-width="1.1" stroke-linecap="butt"/>
<line x1="114.40" y1="226.70" x2="118.60" y2="226.70" stroke="#000" stroke-width="1.1" stroke-linecap="butt"/>
<rect x="122.95" y="223.80" width="8.30" height="57.00" fill="#000"/>
<rect x="133.90" y="268.10" width="8.30" height="12.70" fill="#000"/>
<line x1="138.50" y1="268.10" x2="138.50" y2="265.80" stroke="#000" stroke-width="1.1" stroke-linecap="butt"/>
<line x1="136.40" y1="265.80" x2="140.60" y2="265.80" stroke="#000" stroke-width="1.1" stroke-linecap="butt"/>
<circle cx="134.35" cy="260.70" r="1.1" fill="#000"/>
<circle cx="138.05" cy="260.70" r="1.1" fill="#000"/>
<circle cx="141.75" cy="260.70" r="1.1" fill="#000"/>
<rect x="144.85" y="271.10" width="8.30" height="9.70" fill="#000"/>
<line x1="149.50" y1="271.10" x2="149.50" y2="263.20" stroke="#000" stroke-width="1.1" stroke-linecap="butt"/>
<line x1="147.40" y1="263.20" x2="151.60" y2="263.20" stroke="#000" stroke-width="1.1" stroke-linecap="butt"/>
<circle cx="147.15" cy="257.90" r="1.1" fill="#000"/>
<circle cx="150.85" cy="257.90" r="1.1" fill="#000"/>
<rect x="155.80" y="266.20" width="8.30" height="14.60" fill="#000"/>
<line x1="159.50" y1="266.20" x2="159.50" y2="258.70" stroke="#000" stroke-width="1.1" stroke-linecap="butt"/>
<line x1="157.40" y1="258.70" x2="161.60" y2="258.70" stroke="#000" stroke-width="1.1" stroke-linecap="butt"/>
<circle cx="159.95" cy="252.80" r="1.1" fill="#000"/>
<rect x="166.75" y="245.10" width="8.30" height="35.70" fill="#000"/>
<line x1="170.50" y1="245.10" x2="170.50" y2="241.60" stroke="#000" stroke-width="1.1" stroke-linecap="butt"/>
<line x1="168.40" y1="241.60" x2="172.60" y2="241.60" stroke="#000" stroke-width="1.1" stroke-linecap="butt"/>
<rect x="177.70" y="223.80" width="8.30" height="57.00" fill="#000"/>
<rect x="122.95" y="213.40" width="8.30" height="2.60" fill="#000"/>
<line x1="127.50" y1="213.40" x2="127.50" y2="201.40" stroke="#000" stroke-width="1.1" stroke-linecap="butt"/>
<line x1="125.40" y1="201.40" x2="129.60" y2="201.40" stroke="#000" stroke-width="1.1" stroke-linecap="butt"/>
<rect x="177.70" y="212.50" width="8.30" height="3.50" fill="#000"/>
<line x1="181.50" y1="212.50" x2="181.50" y2="181.50" stroke="#000" stroke-width="1.1" stroke-linecap="butt"/>
<line x1="179.40" y1="181.50" x2="183.60" y2="181.50" stroke="#000" stroke-width="1.1" stroke-linecap="butt"/>
<line x1="72.20" y1="181.30" x2="159.80" y2="181.30" stroke="#000" stroke-width="1.2" stroke-linecap="butt" stroke-dasharray="2 2.4"/>
<line x1="72.20" y1="181.30" x2="72.20" y2="204.60" stroke="#000" stroke-width="1.2" stroke-linecap="butt" stroke-dasharray="2 2.4"/>
<line x1="137.80" y1="181.30" x2="137.80" y2="212.70" stroke="#000" stroke-width="1.2" stroke-linecap="butt" stroke-dasharray="2 2.4"/>
<line x1="147.80" y1="181.30" x2="147.80" y2="213.90" stroke="#000" stroke-width="1.2" stroke-linecap="butt" stroke-dasharray="2 2.4"/>
<line x1="159.80" y1="181.30" x2="159.80" y2="215.00" stroke="#000" stroke-width="1.2" stroke-linecap="butt" stroke-dasharray="2 2.4"/>
<circle cx="104.95" cy="176.00" r="1.1" fill="#000"/>
<circle cx="108.65" cy="176.00" r="1.1" fill="#000"/>
<circle cx="142.30" cy="176.20" r="1.1" fill="#000"/>
<circle cx="151.95" cy="176.20" r="1.1" fill="#000"/>
<circle cx="155.65" cy="176.20" r="1.1" fill="#000"/>
<line x1="223.80" y1="181.90" x2="223.80" y2="280.60" stroke="#000" stroke-width="1.4" stroke-linecap="butt"/>
<line x1="220.60" y1="184.60" x2="223.80" y2="184.60" stroke="#000" stroke-width="1.0" stroke-linecap="butt"/>
<text transform="translate(217.10,187.40) scale(1,1.0)" font-size="7.8" text-anchor="end" font-weight="normal" font-style="normal" fill="#111" stroke="#111" stroke-width="0.18" >600</text>
<line x1="220.60" y1="216.60" x2="223.80" y2="216.60" stroke="#000" stroke-width="1.0" stroke-linecap="butt"/>
<text transform="translate(217.10,219.40) scale(1,1.0)" font-size="7.8" text-anchor="end" font-weight="normal" font-style="normal" fill="#111" stroke="#111" stroke-width="0.18" >400</text>
<line x1="220.60" y1="248.60" x2="223.80" y2="248.60" stroke="#000" stroke-width="1.0" stroke-linecap="butt"/>
<text transform="translate(217.10,251.40) scale(1,1.0)" font-size="7.8" text-anchor="end" font-weight="normal" font-style="normal" fill="#111" stroke="#111" stroke-width="0.18" >200</text>
<line x1="220.60" y1="280.60" x2="223.80" y2="280.60" stroke="#000" stroke-width="1.0" stroke-linecap="butt"/>
<text transform="translate(217.10,283.40) scale(1,1.0)" font-size="7.8" text-anchor="end" font-weight="normal" font-style="normal" fill="#111" stroke="#111" stroke-width="0.18" >0</text>
<line x1="220.60" y1="280.60" x2="354.70" y2="280.60" stroke="#000" stroke-width="1.4" stroke-linecap="butt"/>
<line x1="229.40" y1="280.60" x2="229.40" y2="284.20" stroke="#000" stroke-width="0.9" stroke-linecap="butt"/>
<line x1="240.30" y1="280.60" x2="240.30" y2="284.20" stroke="#000" stroke-width="0.9" stroke-linecap="butt"/>
<line x1="251.20" y1="280.60" x2="251.20" y2="284.20" stroke="#000" stroke-width="0.9" stroke-linecap="butt"/>
<line x1="262.10" y1="280.60" x2="262.10" y2="284.20" stroke="#000" stroke-width="0.9" stroke-linecap="butt"/>
<line x1="273.00" y1="280.60" x2="273.00" y2="284.20" stroke="#000" stroke-width="0.9" stroke-linecap="butt"/>
<line x1="283.90" y1="280.60" x2="283.90" y2="284.20" stroke="#000" stroke-width="0.9" stroke-linecap="butt"/>
<line x1="294.80" y1="280.60" x2="294.80" y2="284.20" stroke="#000" stroke-width="0.9" stroke-linecap="butt"/>
<line x1="305.70" y1="280.60" x2="305.70" y2="284.20" stroke="#000" stroke-width="0.9" stroke-linecap="butt"/>
<line x1="316.60" y1="280.60" x2="316.60" y2="284.20" stroke="#000" stroke-width="0.9" stroke-linecap="butt"/>
<line x1="327.50" y1="280.60" x2="327.50" y2="284.20" stroke="#000" stroke-width="0.9" stroke-linecap="butt"/>
<line x1="338.40" y1="280.60" x2="338.40" y2="284.20" stroke="#000" stroke-width="0.9" stroke-linecap="butt"/>
<line x1="349.30" y1="280.60" x2="349.30" y2="284.20" stroke="#000" stroke-width="0.9" stroke-linecap="butt"/>
<rect x="225.25" y="280.20" width="8.30" height="0.40" fill="#000"/>
<rect x="236.15" y="265.80" width="8.30" height="14.80" fill="#000"/>
<line x1="240.50" y1="265.80" x2="240.50" y2="261.20" stroke="#000" stroke-width="1.1" stroke-linecap="butt"/>
<line x1="238.40" y1="261.20" x2="242.60" y2="261.20" stroke="#000" stroke-width="1.1" stroke-linecap="butt"/>
<circle cx="240.30" cy="255.60" r="1.1" fill="#000"/>
<rect x="247.05" y="279.00" width="8.30" height="1.60" fill="#000"/>
<rect x="257.95" y="279.00" width="8.30" height="1.60" fill="#000"/>
<rect x="268.85" y="279.00" width="8.30" height="1.60" fill="#000"/>
<rect x="279.75" y="279.00" width="8.30" height="1.60" fill="#000"/>
<rect x="290.65" y="279.00" width="8.30" height="1.60" fill="#000"/>
<rect x="301.55" y="225.90" width="8.30" height="54.70" fill="#000"/>
<line x1="305.50" y1="225.90" x2="305.50" y2="202.10" stroke="#000" stroke-width="1.1" stroke-linecap="butt"/>
<line x1="303.40" y1="202.10" x2="307.60" y2="202.10" stroke="#000" stroke-width="1.1" stroke-linecap="butt"/>
<circle cx="305.70" cy="197.40" r="1.1" fill="#000"/>
<rect x="312.45" y="233.00" width="8.30" height="47.60" fill="#000"/>
<line x1="316.50" y1="233.00" x2="316.50" y2="202.60" stroke="#000" stroke-width="1.1" stroke-linecap="butt"/>
<line x1="314.40" y1="202.60" x2="318.60" y2="202.60" stroke="#000" stroke-width="1.1" stroke-linecap="butt"/>
<rect x="323.35" y="214.70" width="8.30" height="65.90" fill="#000"/>
<line x1="327.50" y1="214.70" x2="327.50" y2="199.60" stroke="#000" stroke-width="1.1" stroke-linecap="butt"/>
<line x1="325.40" y1="199.60" x2="329.60" y2="199.60" stroke="#000" stroke-width="1.1" stroke-linecap="butt"/>
<rect x="334.25" y="259.60" width="8.30" height="21.00" fill="#000"/>
<line x1="338.50" y1="259.60" x2="338.50" y2="255.00" stroke="#000" stroke-width="1.1" stroke-linecap="butt"/>
<line x1="336.40" y1="255.00" x2="340.60" y2="255.00" stroke="#000" stroke-width="1.1" stroke-linecap="butt"/>
<rect x="345.15" y="273.00" width="8.30" height="7.60" fill="#000"/>
<line x1="349.50" y1="273.00" x2="349.50" y2="270.40" stroke="#000" stroke-width="1.1" stroke-linecap="butt"/>
<line x1="347.40" y1="270.40" x2="351.60" y2="270.40" stroke="#000" stroke-width="1.1" stroke-linecap="butt"/>
<line x1="239.80" y1="180.40" x2="328.20" y2="180.40" stroke="#000" stroke-width="1.2" stroke-linecap="butt" stroke-dasharray="2 2.4"/>
<line x1="239.80" y1="180.40" x2="239.80" y2="204.10" stroke="#000" stroke-width="1.2" stroke-linecap="butt" stroke-dasharray="2 2.4"/>
<line x1="305.80" y1="180.40" x2="305.80" y2="192.50" stroke="#000" stroke-width="1.2" stroke-linecap="butt" stroke-dasharray="2 2.4"/>
<line x1="328.20" y1="180.40" x2="328.20" y2="186.10" stroke="#000" stroke-width="1.2" stroke-linecap="butt" stroke-dasharray="2 2.4"/>
<circle cx="274.30" cy="175.60" r="1.1" fill="#000"/>
<circle cx="316.30" cy="175.60" r="1.1" fill="#000"/>
<line x1="380.20" y1="182.50" x2="380.20" y2="281.30" stroke="#000" stroke-width="1.4" stroke-linecap="butt"/>
<line x1="377.00" y1="185.46" x2="380.20" y2="185.46" stroke="#000" stroke-width="1.0" stroke-linecap="butt"/>
<text transform="translate(373.50,188.26) scale(1,1.0)" font-size="7.8" text-anchor="end" font-weight="normal" font-style="normal" fill="#111" stroke="#111" stroke-width="0.18" >80</text>
<line x1="377.00" y1="209.42" x2="380.20" y2="209.42" stroke="#000" stroke-width="1.0" stroke-linecap="butt"/>
<text transform="translate(373.50,212.22) scale(1,1.0)" font-size="7.8" text-anchor="end" font-weight="normal" font-style="normal" fill="#111" stroke="#111" stroke-width="0.18" >60</text>
<line x1="377.00" y1="233.38" x2="380.20" y2="233.38" stroke="#000" stroke-width="1.0" stroke-linecap="butt"/>
<text transform="translate(373.50,236.18) scale(1,1.0)" font-size="7.8" text-anchor="end" font-weight="normal" font-style="normal" fill="#111" stroke="#111" stroke-width="0.18" >40</text>
<line x1="377.00" y1="257.34" x2="380.20" y2="257.34" stroke="#000" stroke-width="1.0" stroke-linecap="butt"/>
<text transform="translate(373.50,260.14) scale(1,1.0)" font-size="7.8" text-anchor="end" font-weight="normal" font-style="normal" fill="#111" stroke="#111" stroke-width="0.18" >20</text>
<line x1="377.00" y1="281.30" x2="380.20" y2="281.30" stroke="#000" stroke-width="1.0" stroke-linecap="butt"/>
<text transform="translate(373.50,284.10) scale(1,1.0)" font-size="7.8" text-anchor="end" font-weight="normal" font-style="normal" fill="#111" stroke="#111" stroke-width="0.18" >0</text>
<line x1="377.00" y1="281.30" x2="511.60" y2="281.30" stroke="#000" stroke-width="1.4" stroke-linecap="butt"/>
<line x1="385.20" y1="281.30" x2="385.20" y2="284.90" stroke="#000" stroke-width="0.9" stroke-linecap="butt"/>
<line x1="396.31" y1="281.30" x2="396.31" y2="284.90" stroke="#000" stroke-width="0.9" stroke-linecap="butt"/>
<line x1="407.42" y1="281.30" x2="407.42" y2="284.90" stroke="#000" stroke-width="0.9" stroke-linecap="butt"/>
<line x1="418.53" y1="281.30" x2="418.53" y2="284.90" stroke="#000" stroke-width="0.9" stroke-linecap="butt"/>
<line x1="429.64" y1="281.30" x2="429.64" y2="284.90" stroke="#000" stroke-width="0.9" stroke-linecap="butt"/>
<line x1="440.75" y1="281.30" x2="440.75" y2="284.90" stroke="#000" stroke-width="0.9" stroke-linecap="butt"/>
<line x1="451.86" y1="281.30" x2="451.86" y2="284.90" stroke="#000" stroke-width="0.9" stroke-linecap="butt"/>
<line x1="462.97" y1="281.30" x2="462.97" y2="284.90" stroke="#000" stroke-width="0.9" stroke-linecap="butt"/>
<line x1="474.08" y1="281.30" x2="474.08" y2="284.90" stroke="#000" stroke-width="0.9" stroke-linecap="butt"/>
<line x1="485.19" y1="281.30" x2="485.19" y2="284.90" stroke="#000" stroke-width="0.9" stroke-linecap="butt"/>
<line x1="496.30" y1="281.30" x2="496.30" y2="284.90" stroke="#000" stroke-width="0.9" stroke-linecap="butt"/>
<line x1="507.41" y1="281.30" x2="507.41" y2="284.90" stroke="#000" stroke-width="0.9" stroke-linecap="butt"/>
<rect x="381.05" y="279.70" width="8.30" height="1.60" fill="#000"/>
<rect x="392.16" y="264.90" width="8.30" height="16.40" fill="#000"/>
<line x1="396.50" y1="264.90" x2="396.50" y2="259.20" stroke="#000" stroke-width="1.1" stroke-linecap="butt"/>
<line x1="394.40" y1="259.20" x2="398.60" y2="259.20" stroke="#000" stroke-width="1.1" stroke-linecap="butt"/>
<circle cx="392.61" cy="253.70" r="1.1" fill="#000"/>
<circle cx="396.31" cy="253.70" r="1.1" fill="#000"/>
<circle cx="400.01" cy="253.70" r="1.1" fill="#000"/>
<rect x="403.27" y="275.90" width="8.30" height="5.40" fill="#000"/>
<line x1="407.50" y1="275.90" x2="407.50" y2="271.10" stroke="#000" stroke-width="1.1" stroke-linecap="butt"/>
<line x1="405.40" y1="271.10" x2="409.60" y2="271.10" stroke="#000" stroke-width="1.1" stroke-linecap="butt"/>
<rect x="414.38" y="261.10" width="8.30" height="20.20" fill="#000"/>
<line x1="418.50" y1="261.10" x2="418.50" y2="244.90" stroke="#000" stroke-width="1.1" stroke-linecap="butt"/>
<line x1="416.40" y1="244.90" x2="420.60" y2="244.90" stroke="#000" stroke-width="1.1" stroke-linecap="butt"/>
<rect x="425.49" y="279.70" width="8.30" height="1.60" fill="#000"/>
<rect x="436.60" y="279.70" width="8.30" height="1.60" fill="#000"/>
<rect x="447.71" y="277.80" width="8.30" height="3.50" fill="#000"/>
<line x1="451.50" y1="277.80" x2="451.50" y2="275.30" stroke="#000" stroke-width="1.1" stroke-linecap="butt"/>
<line x1="449.40" y1="275.30" x2="453.60" y2="275.30" stroke="#000" stroke-width="1.1" stroke-linecap="butt"/>
<rect x="458.82" y="255.60" width="8.30" height="25.70" fill="#000"/>
<line x1="462.50" y1="255.60" x2="462.50" y2="248.80" stroke="#000" stroke-width="1.1" stroke-linecap="butt"/>
<line x1="460.40" y1="248.80" x2="464.60" y2="248.80" stroke="#000" stroke-width="1.1" stroke-linecap="butt"/>
<circle cx="461.12" cy="243.50" r="1.1" fill="#000"/>
<circle cx="464.82" cy="243.50" r="1.1" fill="#000"/>
<rect x="469.93" y="241.00" width="8.30" height="40.30" fill="#000"/>
<line x1="474.50" y1="241.00" x2="474.50" y2="206.40" stroke="#000" stroke-width="1.1" stroke-linecap="butt"/>
<line x1="472.40" y1="206.40" x2="476.60" y2="206.40" stroke="#000" stroke-width="1.1" stroke-linecap="butt"/>
<rect x="481.04" y="246.30" width="8.30" height="35.00" fill="#000"/>
<line x1="485.50" y1="246.30" x2="485.50" y2="235.40" stroke="#000" stroke-width="1.1" stroke-linecap="butt"/>
<line x1="483.40" y1="235.40" x2="487.60" y2="235.40" stroke="#000" stroke-width="1.1" stroke-linecap="butt"/>
<circle cx="485.19" cy="229.80" r="1.1" fill="#000"/>
<rect x="492.15" y="248.80" width="8.30" height="32.50" fill="#000"/>
<line x1="496.50" y1="248.80" x2="496.50" y2="239.70" stroke="#000" stroke-width="1.1" stroke-linecap="butt"/>
<line x1="494.40" y1="239.70" x2="498.60" y2="239.70" stroke="#000" stroke-width="1.1" stroke-linecap="butt"/>
<rect x="503.26" y="260.20" width="8.30" height="21.10" fill="#000"/>
<line x1="507.50" y1="260.20" x2="507.50" y2="257.60" stroke="#000" stroke-width="1.1" stroke-linecap="butt"/>
<line x1="505.40" y1="257.60" x2="509.60" y2="257.60" stroke="#000" stroke-width="1.1" stroke-linecap="butt"/>
<circle cx="505.56" cy="242.50" r="1.1" fill="#000"/>
<circle cx="509.26" cy="242.50" r="1.1" fill="#000"/>
<line x1="387.70" y1="180.50" x2="494.50" y2="180.50" stroke="#000" stroke-width="1.2" stroke-linecap="butt" stroke-dasharray="2 2.4"/>
<line x1="387.70" y1="180.50" x2="387.70" y2="203.70" stroke="#000" stroke-width="1.2" stroke-linecap="butt" stroke-dasharray="2 2.4"/>
<line x1="462.00" y1="180.50" x2="462.00" y2="203.70" stroke="#000" stroke-width="1.2" stroke-linecap="butt" stroke-dasharray="2 2.4"/>
<line x1="483.80" y1="180.50" x2="483.80" y2="200.00" stroke="#000" stroke-width="1.2" stroke-linecap="butt" stroke-dasharray="2 2.4"/>
<line x1="494.50" y1="180.50" x2="494.50" y2="205.50" stroke="#000" stroke-width="1.2" stroke-linecap="butt" stroke-dasharray="2 2.4"/>
<circle cx="425.05" cy="175.50" r="1.1" fill="#000"/>
<circle cx="428.75" cy="175.50" r="1.1" fill="#000"/>
<circle cx="472.00" cy="175.50" r="1.1" fill="#000"/>
<circle cx="488.30" cy="175.50" r="1.1" fill="#000"/>
<text transform="translate(7.00,294.10) scale(1,1.0)" font-size="7.7" text-anchor="start" font-weight="normal" font-style="normal" fill="#111" stroke="#111" stroke-width="0.18" >GM-CSF</text>
<line x1="60.40" y1="292.30" x2="62.40" y2="292.30" stroke="#333" stroke-width="0.8" stroke-linecap="butt"/>
<line x1="70.15" y1="292.30" x2="74.55" y2="292.30" stroke="#222" stroke-width="0.75" stroke-linecap="butt"/>
<line x1="72.35" y1="290.10" x2="72.35" y2="294.50" stroke="#222" stroke-width="0.75" stroke-linecap="butt"/>
<line x1="82.30" y1="292.30" x2="84.30" y2="292.30" stroke="#333" stroke-width="0.8" stroke-linecap="butt"/>
<line x1="93.25" y1="292.30" x2="95.25" y2="292.30" stroke="#333" stroke-width="0.8" stroke-linecap="butt"/>
<line x1="104.20" y1="292.30" x2="106.20" y2="292.30" stroke="#333" stroke-width="0.8" stroke-linecap="butt"/>
<line x1="115.15" y1="292.30" x2="117.15" y2="292.30" stroke="#333" stroke-width="0.8" stroke-linecap="butt"/>
<line x1="126.10" y1="292.30" x2="128.10" y2="292.30" stroke="#333" stroke-width="0.8" stroke-linecap="butt"/>
<line x1="135.85" y1="292.30" x2="140.25" y2="292.30" stroke="#222" stroke-width="0.75" stroke-linecap="butt"/>
<line x1="138.05" y1="290.10" x2="138.05" y2="294.50" stroke="#222" stroke-width="0.75" stroke-linecap="butt"/>
<line x1="146.80" y1="292.30" x2="151.20" y2="292.30" stroke="#222" stroke-width="0.75" stroke-linecap="butt"/>
<line x1="149.00" y1="290.10" x2="149.00" y2="294.50" stroke="#222" stroke-width="0.75" stroke-linecap="butt"/>
<line x1="157.75" y1="292.30" x2="162.15" y2="292.30" stroke="#222" stroke-width="0.75" stroke-linecap="butt"/>
<line x1="159.95" y1="290.10" x2="159.95" y2="294.50" stroke="#222" stroke-width="0.75" stroke-linecap="butt"/>
<line x1="168.70" y1="292.30" x2="173.10" y2="292.30" stroke="#222" stroke-width="0.75" stroke-linecap="butt"/>
<line x1="170.90" y1="290.10" x2="170.90" y2="294.50" stroke="#222" stroke-width="0.75" stroke-linecap="butt"/>
<line x1="179.65" y1="292.30" x2="184.05" y2="292.30" stroke="#222" stroke-width="0.75" stroke-linecap="butt"/>
<line x1="181.85" y1="290.10" x2="181.85" y2="294.50" stroke="#222" stroke-width="0.75" stroke-linecap="butt"/>
<line x1="228.40" y1="292.30" x2="230.40" y2="292.30" stroke="#333" stroke-width="0.8" stroke-linecap="butt"/>
<line x1="238.10" y1="292.30" x2="242.50" y2="292.30" stroke="#222" stroke-width="0.75" stroke-linecap="butt"/>
<line x1="240.30" y1="290.10" x2="240.30" y2="294.50" stroke="#222" stroke-width="0.75" stroke-linecap="butt"/>
<line x1="250.20" y1="292.30" x2="252.20" y2="292.30" stroke="#333" stroke-width="0.8" stroke-linecap="butt"/>
<line x1="261.10" y1="292.30" x2="263.10" y2="292.30" stroke="#333" stroke-width="0.8" stroke-linecap="butt"/>
<line x1="272.00" y1="292.30" x2="274.00" y2="292.30" stroke="#333" stroke-width="0.8" stroke-linecap="butt"/>
<line x1="282.90" y1="292.30" x2="284.90" y2="292.30" stroke="#333" stroke-width="0.8" stroke-linecap="butt"/>
<line x1="293.80" y1="292.30" x2="295.80" y2="292.30" stroke="#333" stroke-width="0.8" stroke-linecap="butt"/>
<line x1="303.50" y1="292.30" x2="307.90" y2="292.30" stroke="#222" stroke-width="0.75" stroke-linecap="butt"/>
<line x1="305.70" y1="290.10" x2="305.70" y2="294.50" stroke="#222" stroke-width="0.75" stroke-linecap="butt"/>
<line x1="314.40" y1="292.30" x2="318.80" y2="292.30" stroke="#222" stroke-width="0.75" stroke-linecap="butt"/>
<line x1="316.60" y1="290.10" x2="316.60" y2="294.50" stroke="#222" stroke-width="0.75" stroke-linecap="butt"/>
<line x1="325.30" y1="292.30" x2="329.70" y2="292.30" stroke="#222" stroke-width="0.75" stroke-linecap="butt"/>
<line x1="327.50" y1="290.10" x2="327.50" y2="294.50" stroke="#222" stroke-width="0.75" stroke-linecap="butt"/>
<line x1="336.20" y1="292.30" x2="340.60" y2="292.30" stroke="#222" stroke-width="0.75" stroke-linecap="butt"/>
<line x1="338.40" y1="290.10" x2="338.40" y2="294.50" stroke="#222" stroke-width="0.75" stroke-linecap="butt"/>
<line x1="347.10" y1="292.30" x2="351.50" y2="292.30" stroke="#222" stroke-width="0.75" stroke-linecap="butt"/>
<line x1="349.30" y1="290.10" x2="349.30" y2="294.50" stroke="#222" stroke-width="0.75" stroke-linecap="butt"/>
<line x1="384.20" y1="292.30" x2="386.20" y2="292.30" stroke="#333" stroke-width="0.8" stroke-linecap="butt"/>
<line x1="394.11" y1="292.30" x2="398.51" y2="292.30" stroke="#222" stroke-width="0.75" stroke-linecap="butt"/>
<line x1="396.31" y1="290.10" x2="396.31" y2="294.50" stroke="#222" stroke-width="0.75" stroke-linecap="butt"/>
<line x1="406.42" y1="292.30" x2="408.42" y2="292.30" stroke="#333" stroke-width="0.8" stroke-linecap="butt"/>
<line x1="417.53" y1="292.30" x2="419.53" y2="292.30" stroke="#333" stroke-width="0.8" stroke-linecap="butt"/>
<line x1="428.64" y1="292.30" x2="430.64" y2="292.30" stroke="#333" stroke-width="0.8" stroke-linecap="butt"/>
<line x1="439.75" y1="292.30" x2="441.75" y2="292.30" stroke="#333" stroke-width="0.8" stroke-linecap="butt"/>
<line x1="450.86" y1="292.30" x2="452.86" y2="292.30" stroke="#333" stroke-width="0.8" stroke-linecap="butt"/>
<line x1="460.77" y1="292.30" x2="465.17" y2="292.30" stroke="#222" stroke-width="0.75" stroke-linecap="butt"/>
<line x1="462.97" y1="290.10" x2="462.97" y2="294.50" stroke="#222" stroke-width="0.75" stroke-linecap="butt"/>
<line x1="471.88" y1="292.30" x2="476.28" y2="292.30" stroke="#222" stroke-width="0.75" stroke-linecap="butt"/>
<line x1="474.08" y1="290.10" x2="474.08" y2="294.50" stroke="#222" stroke-width="0.75" stroke-linecap="butt"/>
<line x1="482.99" y1="292.30" x2="487.39" y2="292.30" stroke="#222" stroke-width="0.75" stroke-linecap="butt"/>
<line x1="485.19" y1="290.10" x2="485.19" y2="294.50" stroke="#222" stroke-width="0.75" stroke-linecap="butt"/>
<line x1="494.10" y1="292.30" x2="498.50" y2="292.30" stroke="#222" stroke-width="0.75" stroke-linecap="butt"/>
<line x1="496.30" y1="290.10" x2="496.30" y2="294.50" stroke="#222" stroke-width="0.75" stroke-linecap="butt"/>
<line x1="505.21" y1="292.30" x2="509.61" y2="292.30" stroke="#222" stroke-width="0.75" stroke-linecap="butt"/>
<line x1="507.41" y1="290.10" x2="507.41" y2="294.50" stroke="#222" stroke-width="0.75" stroke-linecap="butt"/>
<text transform="translate(7.00,304.50) scale(1,1.0)" font-size="7.7" text-anchor="start" font-weight="normal" font-style="normal" fill="#111" stroke="#111" stroke-width="0.18" >4-IPP</text>
<line x1="60.40" y1="302.70" x2="62.40" y2="302.70" stroke="#333" stroke-width="0.8" stroke-linecap="butt"/>
<line x1="71.35" y1="302.70" x2="73.35" y2="302.70" stroke="#333" stroke-width="0.8" stroke-linecap="butt"/>
<line x1="81.10" y1="302.70" x2="85.50" y2="302.70" stroke="#222" stroke-width="0.75" stroke-linecap="butt"/>
<line x1="83.30" y1="300.50" x2="83.30" y2="304.90" stroke="#222" stroke-width="0.75" stroke-linecap="butt"/>
<line x1="93.25" y1="302.70" x2="95.25" y2="302.70" stroke="#333" stroke-width="0.8" stroke-linecap="butt"/>
<line x1="104.20" y1="302.70" x2="106.20" y2="302.70" stroke="#333" stroke-width="0.8" stroke-linecap="butt"/>
<line x1="115.15" y1="302.70" x2="117.15" y2="302.70" stroke="#333" stroke-width="0.8" stroke-linecap="butt"/>
<line x1="126.10" y1="302.70" x2="128.10" y2="302.70" stroke="#333" stroke-width="0.8" stroke-linecap="butt"/>
<line x1="135.85" y1="302.70" x2="140.25" y2="302.70" stroke="#222" stroke-width="0.75" stroke-linecap="butt"/>
<line x1="138.05" y1="300.50" x2="138.05" y2="304.90" stroke="#222" stroke-width="0.75" stroke-linecap="butt"/>
<line x1="148.00" y1="302.70" x2="150.00" y2="302.70" stroke="#333" stroke-width="0.8" stroke-linecap="butt"/>
<line x1="158.95" y1="302.70" x2="160.95" y2="302.70" stroke="#333" stroke-width="0.8" stroke-linecap="butt"/>
<line x1="169.90" y1="302.70" x2="171.90" y2="302.70" stroke="#333" stroke-width="0.8" stroke-linecap="butt"/>
<line x1="180.85" y1="302.70" x2="182.85" y2="302.70" stroke="#333" stroke-width="0.8" stroke-linecap="butt"/>
<line x1="228.40" y1="302.70" x2="230.40" y2="302.70" stroke="#333" stroke-width="0.8" stroke-linecap="butt"/>
<line x1="239.30" y1="302.70" x2="241.30" y2="302.70" stroke="#333" stroke-width="0.8" stroke-linecap="butt"/>
<line x1="249.00" y1="302.70" x2="253.40" y2="302.70" stroke="#222" stroke-width="0.75" stroke-linecap="butt"/>
<line x1="251.20" y1="300.50" x2="251.20" y2="304.90" stroke="#222" stroke-width="0.75" stroke-linecap="butt"/>
<line x1="261.10" y1="302.70" x2="263.10" y2="302.70" stroke="#333" stroke-width="0.8" stroke-linecap="butt"/>
<line x1="272.00" y1="302.70" x2="274.00" y2="302.70" stroke="#333" stroke-width="0.8" stroke-linecap="butt"/>
<line x1="282.90" y1="302.70" x2="284.90" y2="302.70" stroke="#333" stroke-width="0.8" stroke-linecap="butt"/>
<line x1="293.80" y1="302.70" x2="295.80" y2="302.70" stroke="#333" stroke-width="0.8" stroke-linecap="butt"/>
<line x1="303.50" y1="302.70" x2="307.90" y2="302.70" stroke="#222" stroke-width="0.75" stroke-linecap="butt"/>
<line x1="305.70" y1="300.50" x2="305.70" y2="304.90" stroke="#222" stroke-width="0.75" stroke-linecap="butt"/>
<line x1="315.60" y1="302.70" x2="317.60" y2="302.70" stroke="#333" stroke-width="0.8" stroke-linecap="butt"/>
<line x1="326.50" y1="302.70" x2="328.50" y2="302.70" stroke="#333" stroke-width="0.8" stroke-linecap="butt"/>
<line x1="337.40" y1="302.70" x2="339.40" y2="302.70" stroke="#333" stroke-width="0.8" stroke-linecap="butt"/>
<line x1="348.30" y1="302.70" x2="350.30" y2="302.70" stroke="#333" stroke-width="0.8" stroke-linecap="butt"/>
<line x1="384.20" y1="302.70" x2="386.20" y2="302.70" stroke="#333" stroke-width="0.8" stroke-linecap="butt"/>
<line x1="395.31" y1="302.70" x2="397.31" y2="302.70" stroke="#333" stroke-width="0.8" stroke-linecap="butt"/>
<line x1="405.22" y1="302.70" x2="409.62" y2="302.70" stroke="#222" stroke-width="0.75" stroke-linecap="butt"/>
<line x1="407.42" y1="300.50" x2="407.42" y2="304.90" stroke="#222" stroke-width="0.75" stroke-linecap="butt"/>
<line x1="417.53" y1="302.70" x2="419.53" y2="302.70" stroke="#333" stroke-width="0.8" stroke-linecap="butt"/>
<line x1="428.64" y1="302.70" x2="430.64" y2="302.70" stroke="#333" stroke-width="0.8" stroke-linecap="butt"/>
<line x1="439.75" y1="302.70" x2="441.75" y2="302.70" stroke="#333" stroke-width="0.8" stroke-linecap="butt"/>
<line x1="450.86" y1="302.70" x2="452.86" y2="302.70" stroke="#333" stroke-width="0.8" stroke-linecap="butt"/>
<line x1="460.77" y1="302.70" x2="465.17" y2="302.70" stroke="#222" stroke-width="0.75" stroke-linecap="butt"/>
<line x1="462.97" y1="300.50" x2="462.97" y2="304.90" stroke="#222" stroke-width="0.75" stroke-linecap="butt"/>
<line x1="473.08" y1="302.70" x2="475.08" y2="302.70" stroke="#333" stroke-width="0.8" stroke-linecap="butt"/>
<line x1="484.19" y1="302.70" x2="486.19" y2="302.70" stroke="#333" stroke-width="0.8" stroke-linecap="butt"/>
<line x1="495.30" y1="302.70" x2="497.30" y2="302.70" stroke="#333" stroke-width="0.8" stroke-linecap="butt"/>
<line x1="506.41" y1="302.70" x2="508.41" y2="302.70" stroke="#333" stroke-width="0.8" stroke-linecap="butt"/>
<text transform="translate(7.00,314.90) scale(1,1.0)" font-size="7.7" text-anchor="start" font-weight="normal" font-style="normal" fill="#111" stroke="#111" stroke-width="0.18" >ANTI-CD74</text>
<line x1="60.40" y1="313.10" x2="62.40" y2="313.10" stroke="#333" stroke-width="0.8" stroke-linecap="butt"/>
<line x1="71.35" y1="313.10" x2="73.35" y2="313.10" stroke="#333" stroke-width="0.8" stroke-linecap="butt"/>
<line x1="82.30" y1="313.10" x2="84.30" y2="313.10" stroke="#333" stroke-width="0.8" stroke-linecap="butt"/>
<line x1="92.05" y1="313.10" x2="96.45" y2="313.10" stroke="#222" stroke-width="0.75" stroke-linecap="butt"/>
<line x1="94.25" y1="310.90" x2="94.25" y2="315.30" stroke="#222" stroke-width="0.75" stroke-linecap="butt"/>
<line x1="104.20" y1="313.10" x2="106.20" y2="313.10" stroke="#333" stroke-width="0.8" stroke-linecap="butt"/>
<line x1="115.15" y1="313.10" x2="117.15" y2="313.10" stroke="#333" stroke-width="0.8" stroke-linecap="butt"/>
<line x1="126.10" y1="313.10" x2="128.10" y2="313.10" stroke="#333" stroke-width="0.8" stroke-linecap="butt"/>
<line x1="137.05" y1="313.10" x2="139.05" y2="313.10" stroke="#333" stroke-width="0.8" stroke-linecap="butt"/>
<line x1="146.80" y1="313.10" x2="151.20" y2="313.10" stroke="#222" stroke-width="0.75" stroke-linecap="butt"/>
<line x1="149.00" y1="310.90" x2="149.00" y2="315.30" stroke="#222" stroke-width="0.75" stroke-linecap="butt"/>
<line x1="158.95" y1="313.10" x2="160.95" y2="313.10" stroke="#333" stroke-width="0.8" stroke-linecap="butt"/>
<line x1="169.90" y1="313.10" x2="171.90" y2="313.10" stroke="#333" stroke-width="0.8" stroke-linecap="butt"/>
<line x1="180.85" y1="313.10" x2="182.85" y2="313.10" stroke="#333" stroke-width="0.8" stroke-linecap="butt"/>
<line x1="228.40" y1="313.10" x2="230.40" y2="313.10" stroke="#333" stroke-width="0.8" stroke-linecap="butt"/>
<line x1="239.30" y1="313.10" x2="241.30" y2="313.10" stroke="#333" stroke-width="0.8" stroke-linecap="butt"/>
<line x1="250.20" y1="313.10" x2="252.20" y2="313.10" stroke="#333" stroke-width="0.8" stroke-linecap="butt"/>
<line x1="259.90" y1="313.10" x2="264.30" y2="313.10" stroke="#222" stroke-width="0.75" stroke-linecap="butt"/>
<line x1="262.10" y1="310.90" x2="262.10" y2="315.30" stroke="#222" stroke-width="0.75" stroke-linecap="butt"/>
<line x1="272.00" y1="313.10" x2="274.00" y2="313.10" stroke="#333" stroke-width="0.8" stroke-linecap="butt"/>
<line x1="282.90" y1="313.10" x2="284.90" y2="313.10" stroke="#333" stroke-width="0.8" stroke-linecap="butt"/>
<line x1="293.80" y1="313.10" x2="295.80" y2="313.10" stroke="#333" stroke-width="0.8" stroke-linecap="butt"/>
<line x1="304.70" y1="313.10" x2="306.70" y2="313.10" stroke="#333" stroke-width="0.8" stroke-linecap="butt"/>
<line x1="314.40" y1="313.10" x2="318.80" y2="313.10" stroke="#222" stroke-width="0.75" stroke-linecap="butt"/>
<line x1="316.60" y1="310.90" x2="316.60" y2="315.30" stroke="#222" stroke-width="0.75" stroke-linecap="butt"/>
<line x1="326.50" y1="313.10" x2="328.50" y2="313.10" stroke="#333" stroke-width="0.8" stroke-linecap="butt"/>
<line x1="337.40" y1="313.10" x2="339.40" y2="313.10" stroke="#333" stroke-width="0.8" stroke-linecap="butt"/>
<line x1="348.30" y1="313.10" x2="350.30" y2="313.10" stroke="#333" stroke-width="0.8" stroke-linecap="butt"/>
<line x1="384.20" y1="313.10" x2="386.20" y2="313.10" stroke="#333" stroke-width="0.8" stroke-linecap="butt"/>
<line x1="395.31" y1="313.10" x2="397.31" y2="313.10" stroke="#333" stroke-width="0.8" stroke-linecap="butt"/>
<line x1="406.42" y1="313.10" x2="408.42" y2="313.10" stroke="#333" stroke-width="0.8" stroke-linecap="butt"/>
<line x1="416.33" y1="313.10" x2="420.73" y2="313.10" stroke="#222" stroke-width="0.75" stroke-linecap="butt"/>
<line x1="418.53" y1="310.90" x2="418.53" y2="315.30" stroke="#222" stroke-width="0.75" stroke-linecap="butt"/>
<line x1="428.64" y1="313.10" x2="430.64" y2="313.10" stroke="#333" stroke-width="0.8" stroke-linecap="butt"/>
<line x1="439.75" y1="313.10" x2="441.75" y2="313.10" stroke="#333" stroke-width="0.8" stroke-linecap="butt"/>
<line x1="450.86" y1="313.10" x2="452.86" y2="313.10" stroke="#333" stroke-width="0.8" stroke-linecap="butt"/>
<line x1="461.97" y1="313.10" x2="463.97" y2="313.10" stroke="#333" stroke-width="0.8" stroke-linecap="butt"/>
<line x1="471.88" y1="313.10" x2="476.28" y2="313.10" stroke="#222" stroke-width="0.75" stroke-linecap="butt"/>
<line x1="474.08" y1="310.90" x2="474.08" y2="315.30" stroke="#222" stroke-width="0.75" stroke-linecap="butt"/>
<line x1="484.19" y1="313.10" x2="486.19" y2="313.10" stroke="#333" stroke-width="0.8" stroke-linecap="butt"/>
<line x1="495.30" y1="313.10" x2="497.30" y2="313.10" stroke="#333" stroke-width="0.8" stroke-linecap="butt"/>
<line x1="506.41" y1="313.10" x2="508.41" y2="313.10" stroke="#333" stroke-width="0.8" stroke-linecap="butt"/>
<text transform="translate(7.00,325.30) scale(1,1.0)" font-size="7.7" text-anchor="start" font-weight="normal" font-style="normal" fill="#111" stroke="#111" stroke-width="0.18" >CCX733</text>
<line x1="60.40" y1="323.50" x2="62.40" y2="323.50" stroke="#333" stroke-width="0.8" stroke-linecap="butt"/>
<line x1="71.35" y1="323.50" x2="73.35" y2="323.50" stroke="#333" stroke-width="0.8" stroke-linecap="butt"/>
<line x1="82.30" y1="323.50" x2="84.30" y2="323.50" stroke="#333" stroke-width="0.8" stroke-linecap="butt"/>
<line x1="93.25" y1="323.50" x2="95.25" y2="323.50" stroke="#333" stroke-width="0.8" stroke-linecap="butt"/>
<line x1="103.00" y1="323.50" x2="107.40" y2="323.50" stroke="#222" stroke-width="0.75" stroke-linecap="butt"/>
<line x1="105.20" y1="321.30" x2="105.20" y2="325.70" stroke="#222" stroke-width="0.75" stroke-linecap="butt"/>
<line x1="115.15" y1="323.50" x2="117.15" y2="323.50" stroke="#333" stroke-width="0.8" stroke-linecap="butt"/>
<line x1="126.10" y1="323.50" x2="128.10" y2="323.50" stroke="#333" stroke-width="0.8" stroke-linecap="butt"/>
<line x1="137.05" y1="323.50" x2="139.05" y2="323.50" stroke="#333" stroke-width="0.8" stroke-linecap="butt"/>
<line x1="148.00" y1="323.50" x2="150.00" y2="323.50" stroke="#333" stroke-width="0.8" stroke-linecap="butt"/>
<line x1="157.75" y1="323.50" x2="162.15" y2="323.50" stroke="#222" stroke-width="0.75" stroke-linecap="butt"/>
<line x1="159.95" y1="321.30" x2="159.95" y2="325.70" stroke="#222" stroke-width="0.75" stroke-linecap="butt"/>
<line x1="169.90" y1="323.50" x2="171.90" y2="323.50" stroke="#333" stroke-width="0.8" stroke-linecap="butt"/>
<line x1="180.85" y1="323.50" x2="182.85" y2="323.50" stroke="#333" stroke-width="0.8" stroke-linecap="butt"/>
<line x1="228.40" y1="323.50" x2="230.40" y2="323.50" stroke="#333" stroke-width="0.8" stroke-linecap="butt"/>
<line x1="239.30" y1="323.50" x2="241.30" y2="323.50" stroke="#333" stroke-width="0.8" stroke-linecap="butt"/>
<line x1="250.20" y1="323.50" x2="252.20" y2="323.50" stroke="#333" stroke-width="0.8" stroke-linecap="butt"/>
<line x1="261.10" y1="323.50" x2="263.10" y2="323.50" stroke="#333" stroke-width="0.8" stroke-linecap="butt"/>
<line x1="270.80" y1="323.50" x2="275.20" y2="323.50" stroke="#222" stroke-width="0.75" stroke-linecap="butt"/>
<line x1="273.00" y1="321.30" x2="273.00" y2="325.70" stroke="#222" stroke-width="0.75" stroke-linecap="butt"/>
<line x1="282.90" y1="323.50" x2="284.90" y2="323.50" stroke="#333" stroke-width="0.8" stroke-linecap="butt"/>
<line x1="293.80" y1="323.50" x2="295.80" y2="323.50" stroke="#333" stroke-width="0.8" stroke-linecap="butt"/>
<line x1="304.70" y1="323.50" x2="306.70" y2="323.50" stroke="#333" stroke-width="0.8" stroke-linecap="butt"/>
<line x1="315.60" y1="323.50" x2="317.60" y2="323.50" stroke="#333" stroke-width="0.8" stroke-linecap="butt"/>
<line x1="325.30" y1="323.50" x2="329.70" y2="323.50" stroke="#222" stroke-width="0.75" stroke-linecap="butt"/>
<line x1="327.50" y1="321.30" x2="327.50" y2="325.70" stroke="#222" stroke-width="0.75" stroke-linecap="butt"/>
<line x1="337.40" y1="323.50" x2="339.40" y2="323.50" stroke="#333" stroke-width="0.8" stroke-linecap="butt"/>
<line x1="348.30" y1="323.50" x2="350.30" y2="323.50" stroke="#333" stroke-width="0.8" stroke-linecap="butt"/>
<line x1="384.20" y1="323.50" x2="386.20" y2="323.50" stroke="#333" stroke-width="0.8" stroke-linecap="butt"/>
<line x1="395.31" y1="323.50" x2="397.31" y2="323.50" stroke="#333" stroke-width="0.8" stroke-linecap="butt"/>
<line x1="406.42" y1="323.50" x2="408.42" y2="323.50" stroke="#333" stroke-width="0.8" stroke-linecap="butt"/>
<line x1="417.53" y1="323.50" x2="419.53" y2="323.50" stroke="#333" stroke-width="0.8" stroke-linecap="butt"/>
<line x1="427.44" y1="323.50" x2="431.84" y2="323.50" stroke="#222" stroke-width="0.75" stroke-linecap="butt"/>
<line x1="429.64" y1="321.30" x2="429.64" y2="325.70" stroke="#222" stroke-width="0.75" stroke-linecap="butt"/>
<line x1="439.75" y1="323.50" x2="441.75" y2="323.50" stroke="#333" stroke-width="0.8" stroke-linecap="butt"/>
<line x1="450.86" y1="323.50" x2="452.86" y2="323.50" stroke="#333" stroke-width="0.8" stroke-linecap="butt"/>
<line x1="461.97" y1="323.50" x2="463.97" y2="323.50" stroke="#333" stroke-width="0.8" stroke-linecap="butt"/>
<line x1="473.08" y1="323.50" x2="475.08" y2="323.50" stroke="#333" stroke-width="0.8" stroke-linecap="butt"/>
<line x1="482.99" y1="323.50" x2="487.39" y2="323.50" stroke="#222" stroke-width="0.75" stroke-linecap="butt"/>
<line x1="485.19" y1="321.30" x2="485.19" y2="325.70" stroke="#222" stroke-width="0.75" stroke-linecap="butt"/>
<line x1="495.30" y1="323.50" x2="497.30" y2="323.50" stroke="#333" stroke-width="0.8" stroke-linecap="butt"/>
<line x1="506.41" y1="323.50" x2="508.41" y2="323.50" stroke="#333" stroke-width="0.8" stroke-linecap="butt"/>
<text transform="translate(7.00,335.70) scale(1,1.0)" font-size="7.7" text-anchor="start" font-weight="normal" font-style="normal" fill="#111" stroke="#111" stroke-width="0.18" >SB 225002</text>
<line x1="60.40" y1="333.90" x2="62.40" y2="333.90" stroke="#333" stroke-width="0.8" stroke-linecap="butt"/>
<line x1="71.35" y1="333.90" x2="73.35" y2="333.90" stroke="#333" stroke-width="0.8" stroke-linecap="butt"/>
<line x1="82.30" y1="333.90" x2="84.30" y2="333.90" stroke="#333" stroke-width="0.8" stroke-linecap="butt"/>
<line x1="93.25" y1="333.90" x2="95.25" y2="333.90" stroke="#333" stroke-width="0.8" stroke-linecap="butt"/>
<line x1="104.20" y1="333.90" x2="106.20" y2="333.90" stroke="#333" stroke-width="0.8" stroke-linecap="butt"/>
<line x1="113.95" y1="333.90" x2="118.35" y2="333.90" stroke="#222" stroke-width="0.75" stroke-linecap="butt"/>
<line x1="116.15" y1="331.70" x2="116.15" y2="336.10" stroke="#222" stroke-width="0.75" stroke-linecap="butt"/>
<line x1="126.10" y1="333.90" x2="128.10" y2="333.90" stroke="#333" stroke-width="0.8" stroke-linecap="butt"/>
<line x1="137.05" y1="333.90" x2="139.05" y2="333.90" stroke="#333" stroke-width="0.8" stroke-linecap="butt"/>
<line x1="148.00" y1="333.90" x2="150.00" y2="333.90" stroke="#333" stroke-width="0.8" stroke-linecap="butt"/>
<line x1="158.95" y1="333.90" x2="160.95" y2="333.90" stroke="#333" stroke-width="0.8" stroke-linecap="butt"/>
<line x1="168.70" y1="333.90" x2="173.10" y2="333.90" stroke="#222" stroke-width="0.75" stroke-linecap="butt"/>
<line x1="170.90" y1="331.70" x2="170.90" y2="336.10" stroke="#222" stroke-width="0.75" stroke-linecap="butt"/>
<line x1="180.85" y1="333.90" x2="182.85" y2="333.90" stroke="#333" stroke-width="0.8" stroke-linecap="butt"/>
<line x1="228.40" y1="333.90" x2="230.40" y2="333.90" stroke="#333" stroke-width="0.8" stroke-linecap="butt"/>
<line x1="239.30" y1="333.90" x2="241.30" y2="333.90" stroke="#333" stroke-width="0.8" stroke-linecap="butt"/>
<line x1="250.20" y1="333.90" x2="252.20" y2="333.90" stroke="#333" stroke-width="0.8" stroke-linecap="butt"/>
<line x1="261.10" y1="333.90" x2="263.10" y2="333.90" stroke="#333" stroke-width="0.8" stroke-linecap="butt"/>
<line x1="272.00" y1="333.90" x2="274.00" y2="333.90" stroke="#333" stroke-width="0.8" stroke-linecap="butt"/>
<line x1="281.70" y1="333.90" x2="286.10" y2="333.90" stroke="#222" stroke-width="0.75" stroke-linecap="butt"/>
<line x1="283.90" y1="331.70" x2="283.90" y2="336.10" stroke="#222" stroke-width="0.75" stroke-linecap="butt"/>
<line x1="293.80" y1="333.90" x2="295.80" y2="333.90" stroke="#333" stroke-width="0.8" stroke-linecap="butt"/>
<line x1="304.70" y1="333.90" x2="306.70" y2="333.90" stroke="#333" stroke-width="0.8" stroke-linecap="butt"/>
<line x1="315.60" y1="333.90" x2="317.60" y2="333.90" stroke="#333" stroke-width="0.8" stroke-linecap="butt"/>
<line x1="326.50" y1="333.90" x2="328.50" y2="333.90" stroke="#333" stroke-width="0.8" stroke-linecap="butt"/>
<line x1="336.20" y1="333.90" x2="340.60" y2="333.90" stroke="#222" stroke-width="0.75" stroke-linecap="butt"/>
<line x1="338.40" y1="331.70" x2="338.40" y2="336.10" stroke="#222" stroke-width="0.75" stroke-linecap="butt"/>
<line x1="348.30" y1="333.90" x2="350.30" y2="333.90" stroke="#333" stroke-width="0.8" stroke-linecap="butt"/>
<line x1="384.20" y1="333.90" x2="386.20" y2="333.90" stroke="#333" stroke-width="0.8" stroke-linecap="butt"/>
<line x1="395.31" y1="333.90" x2="397.31" y2="333.90" stroke="#333" stroke-width="0.8" stroke-linecap="butt"/>
<line x1="406.42" y1="333.90" x2="408.42" y2="333.90" stroke="#333" stroke-width="0.8" stroke-linecap="butt"/>
<line x1="417.53" y1="333.90" x2="419.53" y2="333.90" stroke="#333" stroke-width="0.8" stroke-linecap="butt"/>
<line x1="428.64" y1="333.90" x2="430.64" y2="333.90" stroke="#333" stroke-width="0.8" stroke-linecap="butt"/>
<line x1="438.55" y1="333.90" x2="442.95" y2="333.90" stroke="#222" stroke-width="0.75" stroke-linecap="butt"/>
<line x1="440.75" y1="331.70" x2="440.75" y2="336.10" stroke="#222" stroke-width="0.75" stroke-linecap="butt"/>
<line x1="450.86" y1="333.90" x2="452.86" y2="333.90" stroke="#333" stroke-width="0.8" stroke-linecap="butt"/>
<line x1="461.97" y1="333.90" x2="463.97" y2="333.90" stroke="#333" stroke-width="0.8" stroke-linecap="butt"/>
<line x1="473.08" y1="333.90" x2="475.08" y2="333.90" stroke="#333" stroke-width="0.8" stroke-linecap="butt"/>
<line x1="484.19" y1="333.90" x2="486.19" y2="333.90" stroke="#333" stroke-width="0.8" stroke-linecap="butt"/>
<line x1="494.10" y1="333.90" x2="498.50" y2="333.90" stroke="#222" stroke-width="0.75" stroke-linecap="butt"/>
<line x1="496.30" y1="331.70" x2="496.30" y2="336.10" stroke="#222" stroke-width="0.75" stroke-linecap="butt"/>
<line x1="506.41" y1="333.90" x2="508.41" y2="333.90" stroke="#333" stroke-width="0.8" stroke-linecap="butt"/>
<text transform="translate(7.00,346.10) scale(1,1.0)" font-size="7.7" text-anchor="start" font-weight="normal" font-style="normal" fill="#111" stroke="#111" stroke-width="0.18" >AMD-3100</text>
<line x1="60.40" y1="344.30" x2="62.40" y2="344.30" stroke="#333" stroke-width="0.8" stroke-linecap="butt"/>
<line x1="71.35" y1="344.30" x2="73.35" y2="344.30" stroke="#333" stroke-width="0.8" stroke-linecap="butt"/>
<line x1="82.30" y1="344.30" x2="84.30" y2="344.30" stroke="#333" stroke-width="0.8" stroke-linecap="butt"/>
<line x1="93.25" y1="344.30" x2="95.25" y2="344.30" stroke="#333" stroke-width="0.8" stroke-linecap="butt"/>
<line x1="104.20" y1="344.30" x2="106.20" y2="344.30" stroke="#333" stroke-width="0.8" stroke-linecap="butt"/>
<line x1="115.15" y1="344.30" x2="117.15" y2="344.30" stroke="#333" stroke-width="0.8" stroke-linecap="butt"/>
<line x1="124.90" y1="344.30" x2="129.30" y2="344.30" stroke="#222" stroke-width="0.75" stroke-linecap="butt"/>
<line x1="127.10" y1="342.10" x2="127.10" y2="346.50" stroke="#222" stroke-width="0.75" stroke-linecap="butt"/>
<line x1="137.05" y1="344.30" x2="139.05" y2="344.30" stroke="#333" stroke-width="0.8" stroke-linecap="butt"/>
<line x1="148.00" y1="344.30" x2="150.00" y2="344.30" stroke="#333" stroke-width="0.8" stroke-linecap="butt"/>
<line x1="158.95" y1="344.30" x2="160.95" y2="344.30" stroke="#333" stroke-width="0.8" stroke-linecap="butt"/>
<line x1="169.90" y1="344.30" x2="171.90" y2="344.30" stroke="#333" stroke-width="0.8" stroke-linecap="butt"/>
<line x1="179.65" y1="344.30" x2="184.05" y2="344.30" stroke="#222" stroke-width="0.75" stroke-linecap="butt"/>
<line x1="181.85" y1="342.10" x2="181.85" y2="346.50" stroke="#222" stroke-width="0.75" stroke-linecap="butt"/>
<line x1="228.40" y1="344.30" x2="230.40" y2="344.30" stroke="#333" stroke-width="0.8" stroke-linecap="butt"/>
<line x1="239.30" y1="344.30" x2="241.30" y2="344.30" stroke="#333" stroke-width="0.8" stroke-linecap="butt"/>
<line x1="250.20" y1="344.30" x2="252.20" y2="344.30" stroke="#333" stroke-width="0.8" stroke-linecap="butt"/>
<line x1="261.10" y1="344.30" x2="263.10" y2="344.30" stroke="#333" stroke-width="0.8" stroke-linecap="butt"/>
<line x1="272.00" y1="344.30" x2="274.00" y2="344.30" stroke="#333" stroke-width="0.8" stroke-linecap="butt"/>
<line x1="282.90" y1="344.30" x2="284.90" y2="344.30" stroke="#333" stroke-width="0.8" stroke-linecap="butt"/>
<line x1="292.60" y1="344.30" x2="297.00" y2="344.30" stroke="#222" stroke-width="0.75" stroke-linecap="butt"/>
<line x1="294.80" y1="342.10" x2="294.80" y2="346.50" stroke="#222" stroke-width="0.75" stroke-linecap="butt"/>
<line x1="304.70" y1="344.30" x2="306.70" y2="344.30" stroke="#333" stroke-width="0.8" stroke-linecap="butt"/>
<line x1="315.60" y1="344.30" x2="317.60" y2="344.30" stroke="#333" stroke-width="0.8" stroke-linecap="butt"/>
<line x1="326.50" y1="344.30" x2="328.50" y2="344.30" stroke="#333" stroke-width="0.8" stroke-linecap="butt"/>
<line x1="337.40" y1="344.30" x2="339.40" y2="344.30" stroke="#333" stroke-width="0.8" stroke-linecap="butt"/>
<line x1="347.10" y1="344.30" x2="351.50" y2="344.30" stroke="#222" stroke-width="0.75" stroke-linecap="butt"/>
<line x1="349.30" y1="342.10" x2="349.30" y2="346.50" stroke="#222" stroke-width="0.75" stroke-linecap="butt"/>
<line x1="384.20" y1="344.30" x2="386.20" y2="344.30" stroke="#333" stroke-width="0.8" stroke-linecap="butt"/>
<line x1="395.31" y1="344.30" x2="397.31" y2="344.30" stroke="#333" stroke-width="0.8" stroke-linecap="butt"/>
<line x1="406.42" y1="344.30" x2="408.42" y2="344.30" stroke="#333" stroke-width="0.8" stroke-linecap="butt"/>
<line x1="417.53" y1="344.30" x2="419.53" y2="344.30" stroke="#333" stroke-width="0.8" stroke-linecap="butt"/>
<line x1="428.64" y1="344.30" x2="430.64" y2="344.30" stroke="#333" stroke-width="0.8" stroke-linecap="butt"/>
<line x1="439.75" y1="344.30" x2="441.75" y2="344.30" stroke="#333" stroke-width="0.8" stroke-linecap="butt"/>
<line x1="449.66" y1="344.30" x2="454.06" y2="344.30" stroke="#222" stroke-width="0.75" stroke-linecap="butt"/>
<line x1="451.86" y1="342.10" x2="451.86" y2="346.50" stroke="#222" stroke-width="0.75" stroke-linecap="butt"/>
<line x1="461.97" y1="344.30" x2="463.97" y2="344.30" stroke="#333" stroke-width="0.8" stroke-linecap="butt"/>
<line x1="473.08" y1="344.30" x2="475.08" y2="344.30" stroke="#333" stroke-width="0.8" stroke-linecap="butt"/>
<line x1="484.19" y1="344.30" x2="486.19" y2="344.30" stroke="#333" stroke-width="0.8" stroke-linecap="butt"/>
<line x1="495.30" y1="344.30" x2="497.30" y2="344.30" stroke="#333" stroke-width="0.8" stroke-linecap="butt"/>
<line x1="505.21" y1="344.30" x2="509.61" y2="344.30" stroke="#222" stroke-width="0.75" stroke-linecap="butt"/>
<line x1="507.41" y1="342.10" x2="507.41" y2="346.50" stroke="#222" stroke-width="0.75" stroke-linecap="butt"/>
</svg>
</body></html>
